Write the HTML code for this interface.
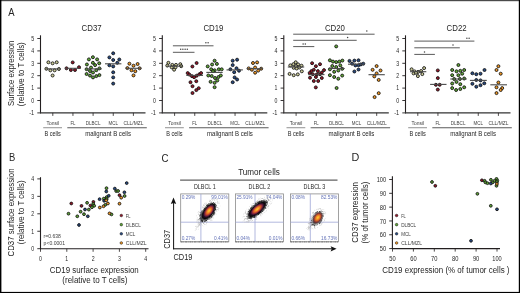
<!DOCTYPE html>
<html><head><meta charset="utf-8"><style>
html,body{margin:0;padding:0;background:#fff;width:520px;height:293px;overflow:hidden}
svg{display:block;will-change:transform}
text{font-family:"Liberation Sans", sans-serif}
</style></head><body>
<svg width="520" height="293" viewBox="0 0 520 293">
<rect width="520" height="293" fill="#fff"/>
<rect x="0" y="0" width="520" height="1.2" fill="#4a4a4a"/>
<rect x="0" y="0" width="1.4" height="293" fill="#000"/>
<rect x="518.8" y="0" width="1.2" height="293" fill="#000"/>
<rect x="0" y="291.9" width="520" height="1.1" fill="#000"/>
<text x="8.3" y="16.2" font-size="10.7" fill="#262626" text-anchor="start" textLength="6.3" lengthAdjust="spacingAndGlyphs">A</text>
<text x="8.9" y="161.4" font-size="10.7" fill="#262626" text-anchor="start" textLength="6.3" lengthAdjust="spacingAndGlyphs">B</text>
<text x="161.6" y="162" font-size="10.7" fill="#262626" text-anchor="start" textLength="7.0" lengthAdjust="spacingAndGlyphs">C</text>
<text x="351.6" y="161.4" font-size="10.7" fill="#262626" text-anchor="start" textLength="7.8" lengthAdjust="spacingAndGlyphs">D</text>
<text x="91.6" y="30.5" font-size="8.8" fill="#262626" text-anchor="middle" textLength="20.0" lengthAdjust="spacingAndGlyphs">CD37</text>
<line x1="40.5" y1="35.3" x2="40.5" y2="113.3" stroke="#231f20" stroke-width="1.1"/>
<line x1="37.3" y1="112.9" x2="40.5" y2="112.9" stroke="#231f20" stroke-width="0.9"/>
<text x="34.2" y="115.2" font-size="6.6" fill="#262626" text-anchor="end" textLength="5.0" lengthAdjust="spacingAndGlyphs">-1</text>
<line x1="37.3" y1="100.5" x2="40.5" y2="100.5" stroke="#231f20" stroke-width="0.9"/>
<text x="34.2" y="102.8" font-size="6.6" fill="#262626" text-anchor="end" textLength="2.9" lengthAdjust="spacingAndGlyphs">0</text>
<line x1="37.3" y1="88.1" x2="40.5" y2="88.1" stroke="#231f20" stroke-width="0.9"/>
<text x="34.2" y="90.39999999999999" font-size="6.6" fill="#262626" text-anchor="end" textLength="2.9" lengthAdjust="spacingAndGlyphs">1</text>
<line x1="37.3" y1="75.7" x2="40.5" y2="75.7" stroke="#231f20" stroke-width="0.9"/>
<text x="34.2" y="78.0" font-size="6.6" fill="#262626" text-anchor="end" textLength="2.9" lengthAdjust="spacingAndGlyphs">2</text>
<line x1="37.3" y1="63.3" x2="40.5" y2="63.3" stroke="#231f20" stroke-width="0.9"/>
<text x="34.2" y="65.6" font-size="6.6" fill="#262626" text-anchor="end" textLength="2.9" lengthAdjust="spacingAndGlyphs">3</text>
<line x1="37.3" y1="50.9" x2="40.5" y2="50.9" stroke="#231f20" stroke-width="0.9"/>
<text x="34.2" y="53.199999999999996" font-size="6.6" fill="#262626" text-anchor="end" textLength="2.9" lengthAdjust="spacingAndGlyphs">4</text>
<line x1="37.3" y1="38.5" x2="40.5" y2="38.5" stroke="#231f20" stroke-width="0.9"/>
<text x="34.2" y="40.8" font-size="6.6" fill="#262626" text-anchor="end" textLength="2.9" lengthAdjust="spacingAndGlyphs">5</text>
<line x1="40.0" y1="112.9" x2="145.5" y2="112.9" stroke="#333" stroke-width="1.4"/>
<line x1="52.8" y1="112.8" x2="52.8" y2="115.9" stroke="#231f20" stroke-width="0.8"/>
<text x="52.8" y="125" font-size="6.0" fill="#404040" text-anchor="middle" textLength="12.6" lengthAdjust="spacingAndGlyphs">Tonsil</text>
<line x1="72.94999999999999" y1="112.8" x2="72.94999999999999" y2="115.9" stroke="#231f20" stroke-width="0.8"/>
<text x="72.94999999999999" y="125" font-size="6.0" fill="#404040" text-anchor="middle" textLength="5.0" lengthAdjust="spacingAndGlyphs">FL</text>
<line x1="93.1" y1="112.8" x2="93.1" y2="115.9" stroke="#231f20" stroke-width="0.8"/>
<text x="93.1" y="125" font-size="6.0" fill="#404040" text-anchor="middle" textLength="14.7" lengthAdjust="spacingAndGlyphs">DLBCL</text>
<line x1="113.25" y1="112.8" x2="113.25" y2="115.9" stroke="#231f20" stroke-width="0.8"/>
<text x="113.25" y="125" font-size="6.0" fill="#404040" text-anchor="middle" textLength="9.4" lengthAdjust="spacingAndGlyphs">MCL</text>
<line x1="133.39999999999998" y1="112.8" x2="133.39999999999998" y2="115.9" stroke="#231f20" stroke-width="0.8"/>
<text x="133.39999999999998" y="125" font-size="6.0" fill="#404040" text-anchor="middle" textLength="20.0" lengthAdjust="spacingAndGlyphs">CLL/MZL</text>
<line x1="43.2" y1="127.7" x2="62.0" y2="127.7" stroke="#9a9a9a" stroke-width="1.1"/>
<line x1="67.3" y1="127.7" x2="146.8" y2="127.7" stroke="#5a5a5a" stroke-width="1.1"/>
<text x="52.6" y="135.7" font-size="6.7" fill="#262626" text-anchor="middle" textLength="16.4" lengthAdjust="spacingAndGlyphs">B cells</text>
<text x="108.1" y="135.7" font-size="6.7" fill="#262626" text-anchor="middle" textLength="45.8" lengthAdjust="spacingAndGlyphs">malignant B cells</text>
<text x="213.4" y="30.5" font-size="8.8" fill="#262626" text-anchor="middle" textLength="20.0" lengthAdjust="spacingAndGlyphs">CD19</text>
<line x1="162.3" y1="35.3" x2="162.3" y2="113.3" stroke="#231f20" stroke-width="1.1"/>
<line x1="159.10000000000002" y1="112.9" x2="162.3" y2="112.9" stroke="#231f20" stroke-width="0.9"/>
<text x="156.0" y="115.2" font-size="6.6" fill="#262626" text-anchor="end" textLength="5.0" lengthAdjust="spacingAndGlyphs">-1</text>
<line x1="159.10000000000002" y1="100.5" x2="162.3" y2="100.5" stroke="#231f20" stroke-width="0.9"/>
<text x="156.0" y="102.8" font-size="6.6" fill="#262626" text-anchor="end" textLength="2.9" lengthAdjust="spacingAndGlyphs">0</text>
<line x1="159.10000000000002" y1="88.1" x2="162.3" y2="88.1" stroke="#231f20" stroke-width="0.9"/>
<text x="156.0" y="90.39999999999999" font-size="6.6" fill="#262626" text-anchor="end" textLength="2.9" lengthAdjust="spacingAndGlyphs">1</text>
<line x1="159.10000000000002" y1="75.7" x2="162.3" y2="75.7" stroke="#231f20" stroke-width="0.9"/>
<text x="156.0" y="78.0" font-size="6.6" fill="#262626" text-anchor="end" textLength="2.9" lengthAdjust="spacingAndGlyphs">2</text>
<line x1="159.10000000000002" y1="63.3" x2="162.3" y2="63.3" stroke="#231f20" stroke-width="0.9"/>
<text x="156.0" y="65.6" font-size="6.6" fill="#262626" text-anchor="end" textLength="2.9" lengthAdjust="spacingAndGlyphs">3</text>
<line x1="159.10000000000002" y1="50.9" x2="162.3" y2="50.9" stroke="#231f20" stroke-width="0.9"/>
<text x="156.0" y="53.199999999999996" font-size="6.6" fill="#262626" text-anchor="end" textLength="2.9" lengthAdjust="spacingAndGlyphs">4</text>
<line x1="159.10000000000002" y1="38.5" x2="162.3" y2="38.5" stroke="#231f20" stroke-width="0.9"/>
<text x="156.0" y="40.8" font-size="6.6" fill="#262626" text-anchor="end" textLength="2.9" lengthAdjust="spacingAndGlyphs">5</text>
<line x1="161.8" y1="112.9" x2="267.3" y2="112.9" stroke="#333" stroke-width="1.4"/>
<line x1="174.60000000000002" y1="112.8" x2="174.60000000000002" y2="115.9" stroke="#231f20" stroke-width="0.8"/>
<text x="174.60000000000002" y="125" font-size="6.0" fill="#404040" text-anchor="middle" textLength="12.6" lengthAdjust="spacingAndGlyphs">Tonsil</text>
<line x1="194.75000000000003" y1="112.8" x2="194.75000000000003" y2="115.9" stroke="#231f20" stroke-width="0.8"/>
<text x="194.75000000000003" y="125" font-size="6.0" fill="#404040" text-anchor="middle" textLength="5.0" lengthAdjust="spacingAndGlyphs">FL</text>
<line x1="214.90000000000003" y1="112.8" x2="214.90000000000003" y2="115.9" stroke="#231f20" stroke-width="0.8"/>
<text x="214.90000000000003" y="125" font-size="6.0" fill="#404040" text-anchor="middle" textLength="14.7" lengthAdjust="spacingAndGlyphs">DLBCL</text>
<line x1="235.05" y1="112.8" x2="235.05" y2="115.9" stroke="#231f20" stroke-width="0.8"/>
<text x="235.05" y="125" font-size="6.0" fill="#404040" text-anchor="middle" textLength="9.4" lengthAdjust="spacingAndGlyphs">MCL</text>
<line x1="255.20000000000002" y1="112.8" x2="255.20000000000002" y2="115.9" stroke="#231f20" stroke-width="0.8"/>
<text x="255.20000000000002" y="125" font-size="6.0" fill="#404040" text-anchor="middle" textLength="20.0" lengthAdjust="spacingAndGlyphs">CLL/MZL</text>
<line x1="165.0" y1="127.7" x2="183.8" y2="127.7" stroke="#9a9a9a" stroke-width="1.1"/>
<line x1="189.10000000000002" y1="127.7" x2="268.6" y2="127.7" stroke="#5a5a5a" stroke-width="1.1"/>
<text x="174.4" y="135.7" font-size="6.7" fill="#262626" text-anchor="middle" textLength="16.4" lengthAdjust="spacingAndGlyphs">B cells</text>
<text x="229.9" y="135.7" font-size="6.7" fill="#262626" text-anchor="middle" textLength="45.8" lengthAdjust="spacingAndGlyphs">malignant B cells</text>
<text x="334.90000000000003" y="30.5" font-size="8.8" fill="#262626" text-anchor="middle" textLength="20.0" lengthAdjust="spacingAndGlyphs">CD20</text>
<line x1="283.8" y1="35.3" x2="283.8" y2="113.3" stroke="#231f20" stroke-width="1.1"/>
<line x1="280.6" y1="112.9" x2="283.8" y2="112.9" stroke="#231f20" stroke-width="0.9"/>
<text x="277.5" y="115.2" font-size="6.6" fill="#262626" text-anchor="end" textLength="5.0" lengthAdjust="spacingAndGlyphs">-1</text>
<line x1="280.6" y1="100.5" x2="283.8" y2="100.5" stroke="#231f20" stroke-width="0.9"/>
<text x="277.5" y="102.8" font-size="6.6" fill="#262626" text-anchor="end" textLength="2.9" lengthAdjust="spacingAndGlyphs">0</text>
<line x1="280.6" y1="88.1" x2="283.8" y2="88.1" stroke="#231f20" stroke-width="0.9"/>
<text x="277.5" y="90.39999999999999" font-size="6.6" fill="#262626" text-anchor="end" textLength="2.9" lengthAdjust="spacingAndGlyphs">1</text>
<line x1="280.6" y1="75.7" x2="283.8" y2="75.7" stroke="#231f20" stroke-width="0.9"/>
<text x="277.5" y="78.0" font-size="6.6" fill="#262626" text-anchor="end" textLength="2.9" lengthAdjust="spacingAndGlyphs">2</text>
<line x1="280.6" y1="63.3" x2="283.8" y2="63.3" stroke="#231f20" stroke-width="0.9"/>
<text x="277.5" y="65.6" font-size="6.6" fill="#262626" text-anchor="end" textLength="2.9" lengthAdjust="spacingAndGlyphs">3</text>
<line x1="280.6" y1="50.9" x2="283.8" y2="50.9" stroke="#231f20" stroke-width="0.9"/>
<text x="277.5" y="53.199999999999996" font-size="6.6" fill="#262626" text-anchor="end" textLength="2.9" lengthAdjust="spacingAndGlyphs">4</text>
<line x1="280.6" y1="38.5" x2="283.8" y2="38.5" stroke="#231f20" stroke-width="0.9"/>
<text x="277.5" y="40.8" font-size="6.6" fill="#262626" text-anchor="end" textLength="2.9" lengthAdjust="spacingAndGlyphs">5</text>
<line x1="283.3" y1="112.9" x2="388.8" y2="112.9" stroke="#333" stroke-width="1.4"/>
<line x1="296.1" y1="112.8" x2="296.1" y2="115.9" stroke="#231f20" stroke-width="0.8"/>
<text x="296.1" y="125" font-size="6.0" fill="#404040" text-anchor="middle" textLength="12.6" lengthAdjust="spacingAndGlyphs">Tonsil</text>
<line x1="316.25" y1="112.8" x2="316.25" y2="115.9" stroke="#231f20" stroke-width="0.8"/>
<text x="316.25" y="125" font-size="6.0" fill="#404040" text-anchor="middle" textLength="5.0" lengthAdjust="spacingAndGlyphs">FL</text>
<line x1="336.40000000000003" y1="112.8" x2="336.40000000000003" y2="115.9" stroke="#231f20" stroke-width="0.8"/>
<text x="336.40000000000003" y="125" font-size="6.0" fill="#404040" text-anchor="middle" textLength="14.7" lengthAdjust="spacingAndGlyphs">DLBCL</text>
<line x1="356.55" y1="112.8" x2="356.55" y2="115.9" stroke="#231f20" stroke-width="0.8"/>
<text x="356.55" y="125" font-size="6.0" fill="#404040" text-anchor="middle" textLength="9.4" lengthAdjust="spacingAndGlyphs">MCL</text>
<line x1="376.70000000000005" y1="112.8" x2="376.70000000000005" y2="115.9" stroke="#231f20" stroke-width="0.8"/>
<text x="376.70000000000005" y="125" font-size="6.0" fill="#404040" text-anchor="middle" textLength="20.0" lengthAdjust="spacingAndGlyphs">CLL/MZL</text>
<line x1="286.5" y1="127.7" x2="305.3" y2="127.7" stroke="#9a9a9a" stroke-width="1.1"/>
<line x1="310.6" y1="127.7" x2="390.1" y2="127.7" stroke="#5a5a5a" stroke-width="1.1"/>
<text x="295.90000000000003" y="135.7" font-size="6.7" fill="#262626" text-anchor="middle" textLength="16.4" lengthAdjust="spacingAndGlyphs">B cells</text>
<text x="351.4" y="135.7" font-size="6.7" fill="#262626" text-anchor="middle" textLength="45.8" lengthAdjust="spacingAndGlyphs">malignant B cells</text>
<text x="456.6" y="30.5" font-size="8.8" fill="#262626" text-anchor="middle" textLength="20.0" lengthAdjust="spacingAndGlyphs">CD22</text>
<line x1="405.5" y1="35.3" x2="405.5" y2="113.3" stroke="#231f20" stroke-width="1.1"/>
<line x1="402.3" y1="112.9" x2="405.5" y2="112.9" stroke="#231f20" stroke-width="0.9"/>
<text x="399.2" y="115.2" font-size="6.6" fill="#262626" text-anchor="end" textLength="5.0" lengthAdjust="spacingAndGlyphs">-1</text>
<line x1="402.3" y1="100.5" x2="405.5" y2="100.5" stroke="#231f20" stroke-width="0.9"/>
<text x="399.2" y="102.8" font-size="6.6" fill="#262626" text-anchor="end" textLength="2.9" lengthAdjust="spacingAndGlyphs">0</text>
<line x1="402.3" y1="88.1" x2="405.5" y2="88.1" stroke="#231f20" stroke-width="0.9"/>
<text x="399.2" y="90.39999999999999" font-size="6.6" fill="#262626" text-anchor="end" textLength="2.9" lengthAdjust="spacingAndGlyphs">1</text>
<line x1="402.3" y1="75.7" x2="405.5" y2="75.7" stroke="#231f20" stroke-width="0.9"/>
<text x="399.2" y="78.0" font-size="6.6" fill="#262626" text-anchor="end" textLength="2.9" lengthAdjust="spacingAndGlyphs">2</text>
<line x1="402.3" y1="63.3" x2="405.5" y2="63.3" stroke="#231f20" stroke-width="0.9"/>
<text x="399.2" y="65.6" font-size="6.6" fill="#262626" text-anchor="end" textLength="2.9" lengthAdjust="spacingAndGlyphs">3</text>
<line x1="402.3" y1="50.9" x2="405.5" y2="50.9" stroke="#231f20" stroke-width="0.9"/>
<text x="399.2" y="53.199999999999996" font-size="6.6" fill="#262626" text-anchor="end" textLength="2.9" lengthAdjust="spacingAndGlyphs">4</text>
<line x1="402.3" y1="38.5" x2="405.5" y2="38.5" stroke="#231f20" stroke-width="0.9"/>
<text x="399.2" y="40.8" font-size="6.6" fill="#262626" text-anchor="end" textLength="2.9" lengthAdjust="spacingAndGlyphs">5</text>
<line x1="405.0" y1="112.9" x2="510.5" y2="112.9" stroke="#333" stroke-width="1.4"/>
<line x1="417.8" y1="112.8" x2="417.8" y2="115.9" stroke="#231f20" stroke-width="0.8"/>
<text x="417.8" y="125" font-size="6.0" fill="#404040" text-anchor="middle" textLength="12.6" lengthAdjust="spacingAndGlyphs">Tonsil</text>
<line x1="437.95" y1="112.8" x2="437.95" y2="115.9" stroke="#231f20" stroke-width="0.8"/>
<text x="437.95" y="125" font-size="6.0" fill="#404040" text-anchor="middle" textLength="5.0" lengthAdjust="spacingAndGlyphs">FL</text>
<line x1="458.1" y1="112.8" x2="458.1" y2="115.9" stroke="#231f20" stroke-width="0.8"/>
<text x="458.1" y="125" font-size="6.0" fill="#404040" text-anchor="middle" textLength="14.7" lengthAdjust="spacingAndGlyphs">DLBCL</text>
<line x1="478.25" y1="112.8" x2="478.25" y2="115.9" stroke="#231f20" stroke-width="0.8"/>
<text x="478.25" y="125" font-size="6.0" fill="#404040" text-anchor="middle" textLength="9.4" lengthAdjust="spacingAndGlyphs">MCL</text>
<line x1="498.4" y1="112.8" x2="498.4" y2="115.9" stroke="#231f20" stroke-width="0.8"/>
<text x="498.4" y="125" font-size="6.0" fill="#404040" text-anchor="middle" textLength="20.0" lengthAdjust="spacingAndGlyphs">CLL/MZL</text>
<line x1="408.2" y1="127.7" x2="427.0" y2="127.7" stroke="#9a9a9a" stroke-width="1.1"/>
<line x1="432.3" y1="127.7" x2="511.8" y2="127.7" stroke="#5a5a5a" stroke-width="1.1"/>
<text x="417.6" y="135.7" font-size="6.7" fill="#262626" text-anchor="middle" textLength="16.4" lengthAdjust="spacingAndGlyphs">B cells</text>
<text x="473.1" y="135.7" font-size="6.7" fill="#262626" text-anchor="middle" textLength="45.8" lengthAdjust="spacingAndGlyphs">malignant B cells</text>
<text x="14.3" y="105.9" font-size="8.4" fill="#262626" text-anchor="start" textLength="65.1" lengthAdjust="spacingAndGlyphs" transform="rotate(-90 14.3 105.9)">Surface expression</text>
<text x="24.3" y="106.2" font-size="8.4" fill="#262626" text-anchor="start" textLength="63.9" lengthAdjust="spacingAndGlyphs" transform="rotate(-90 24.3 106.2)">(relative to T cells)</text>
<line x1="172.9" y1="45.8" x2="213.5" y2="45.8" stroke="#5a5a5a" stroke-width="1"/>
<circle cx="205.90" cy="42.8" r="0.75" fill="#444"/>
<circle cx="208.10" cy="42.8" r="0.75" fill="#444"/>
<line x1="172.9" y1="52.3" x2="194.5" y2="52.3" stroke="#5a5a5a" stroke-width="1"/>
<circle cx="180.70" cy="49.2" r="0.75" fill="#444"/>
<circle cx="182.90" cy="49.2" r="0.75" fill="#444"/>
<circle cx="185.10" cy="49.2" r="0.75" fill="#444"/>
<circle cx="187.30" cy="49.2" r="0.75" fill="#444"/>
<line x1="293.2" y1="34.2" x2="374.6" y2="34.2" stroke="#5a5a5a" stroke-width="1"/>
<circle cx="366.80" cy="31.1" r="0.75" fill="#444"/>
<line x1="293.2" y1="40.3" x2="356.7" y2="40.3" stroke="#5a5a5a" stroke-width="1"/>
<circle cx="347.60" cy="37.5" r="0.75" fill="#444"/>
<line x1="293.2" y1="46.6" x2="314.3" y2="46.6" stroke="#5a5a5a" stroke-width="1"/>
<circle cx="303.10" cy="44.1" r="0.75" fill="#444"/>
<circle cx="305.30" cy="44.1" r="0.75" fill="#444"/>
<line x1="414.3" y1="41.1" x2="474.4" y2="41.1" stroke="#5a5a5a" stroke-width="1"/>
<circle cx="466.90" cy="38.2" r="0.75" fill="#444"/>
<circle cx="469.10" cy="38.2" r="0.75" fill="#444"/>
<line x1="414.3" y1="47.8" x2="459.8" y2="47.8" stroke="#5a5a5a" stroke-width="1"/>
<circle cx="453.00" cy="45" r="0.75" fill="#444"/>
<line x1="414.3" y1="54.4" x2="434.9" y2="54.4" stroke="#5a5a5a" stroke-width="1"/>
<circle cx="424.50" cy="51.9" r="0.75" fill="#444"/>
<circle cx="48.4" cy="62.3" r="1.5" fill="#cbcb98" stroke="#111" stroke-width="0.85"/>
<circle cx="52.6" cy="63.3" r="1.5" fill="#cbcb98" stroke="#111" stroke-width="0.85"/>
<circle cx="56.7" cy="62.3" r="1.5" fill="#cbcb98" stroke="#111" stroke-width="0.85"/>
<circle cx="46.4" cy="68.8" r="1.5" fill="#cbcb98" stroke="#111" stroke-width="0.85"/>
<circle cx="50.4" cy="70.3" r="1.5" fill="#cbcb98" stroke="#111" stroke-width="0.85"/>
<circle cx="54.6" cy="70.3" r="1.5" fill="#cbcb98" stroke="#111" stroke-width="0.85"/>
<circle cx="58.9" cy="69.0" r="1.5" fill="#cbcb98" stroke="#111" stroke-width="0.85"/>
<circle cx="52.6" cy="75.5" r="1.5" fill="#cbcb98" stroke="#111" stroke-width="0.85"/>
<line x1="45.5" y1="68.9" x2="60.6" y2="68.9" stroke="#4a4a4a" stroke-width="1.1"/>
<circle cx="72.7" cy="62.4" r="1.5" fill="#921628" stroke="#111" stroke-width="0.85"/>
<circle cx="66.5" cy="68.3" r="1.5" fill="#921628" stroke="#111" stroke-width="0.85"/>
<circle cx="70.9" cy="70.0" r="1.5" fill="#921628" stroke="#111" stroke-width="0.85"/>
<circle cx="75.0" cy="70.0" r="1.5" fill="#921628" stroke="#111" stroke-width="0.85"/>
<circle cx="79" cy="67.2" r="1.5" fill="#921628" stroke="#111" stroke-width="0.85"/>
<line x1="65" y1="68.3" x2="80.8" y2="68.3" stroke="#4a4a4a" stroke-width="1.1"/>
<circle cx="92.9" cy="57.2" r="1.5" fill="#5ea535" stroke="#111" stroke-width="0.85"/>
<circle cx="88.9" cy="59.4" r="1.5" fill="#5ea535" stroke="#111" stroke-width="0.85"/>
<circle cx="97.1" cy="59.4" r="1.5" fill="#5ea535" stroke="#111" stroke-width="0.85"/>
<circle cx="92.9" cy="62.8" r="1.5" fill="#5ea535" stroke="#111" stroke-width="0.85"/>
<circle cx="99.2" cy="63.3" r="1.5" fill="#5ea535" stroke="#111" stroke-width="0.85"/>
<circle cx="86.9" cy="64.5" r="1.5" fill="#5ea535" stroke="#111" stroke-width="0.85"/>
<circle cx="95.1" cy="65.1" r="1.5" fill="#5ea535" stroke="#111" stroke-width="0.85"/>
<circle cx="91" cy="67.6" r="1.5" fill="#5ea535" stroke="#111" stroke-width="0.85"/>
<circle cx="86.6" cy="69.2" r="1.5" fill="#5ea535" stroke="#111" stroke-width="0.85"/>
<circle cx="99.4" cy="68.4" r="1.5" fill="#5ea535" stroke="#111" stroke-width="0.85"/>
<circle cx="90" cy="71" r="1.5" fill="#5ea535" stroke="#111" stroke-width="0.85"/>
<circle cx="96.3" cy="70.2" r="1.5" fill="#5ea535" stroke="#111" stroke-width="0.85"/>
<circle cx="93" cy="72.5" r="1.5" fill="#5ea535" stroke="#111" stroke-width="0.85"/>
<circle cx="86.6" cy="74" r="1.5" fill="#5ea535" stroke="#111" stroke-width="0.85"/>
<circle cx="90" cy="75.6" r="1.5" fill="#5ea535" stroke="#111" stroke-width="0.85"/>
<circle cx="93" cy="77.4" r="1.5" fill="#5ea535" stroke="#111" stroke-width="0.85"/>
<circle cx="96.3" cy="76.1" r="1.5" fill="#5ea535" stroke="#111" stroke-width="0.85"/>
<circle cx="99.4" cy="75.1" r="1.5" fill="#5ea535" stroke="#111" stroke-width="0.85"/>
<line x1="85.2" y1="68.9" x2="101.7" y2="68.9" stroke="#4a4a4a" stroke-width="1.1"/>
<circle cx="113.2" cy="53.3" r="1.5" fill="#274a82" stroke="#111" stroke-width="0.85"/>
<circle cx="109.4" cy="57.4" r="1.5" fill="#274a82" stroke="#111" stroke-width="0.85"/>
<circle cx="113.2" cy="60" r="1.5" fill="#274a82" stroke="#111" stroke-width="0.85"/>
<circle cx="119.3" cy="59.5" r="1.5" fill="#274a82" stroke="#111" stroke-width="0.85"/>
<circle cx="117.3" cy="62.8" r="1.5" fill="#274a82" stroke="#111" stroke-width="0.85"/>
<circle cx="109.4" cy="65.3" r="1.5" fill="#274a82" stroke="#111" stroke-width="0.85"/>
<circle cx="113.2" cy="66.4" r="1.5" fill="#274a82" stroke="#111" stroke-width="0.85"/>
<circle cx="113.2" cy="72.3" r="1.5" fill="#274a82" stroke="#111" stroke-width="0.85"/>
<circle cx="113.2" cy="77.4" r="1.5" fill="#274a82" stroke="#111" stroke-width="0.85"/>
<circle cx="113.2" cy="83.6" r="1.5" fill="#274a82" stroke="#111" stroke-width="0.85"/>
<line x1="105.0" y1="63.8" x2="121.4" y2="63.8" stroke="#4a4a4a" stroke-width="1.1"/>
<circle cx="129.4" cy="63.7" r="1.5" fill="#ee9624" stroke="#111" stroke-width="0.85"/>
<circle cx="133.5" cy="65.7" r="1.5" fill="#ee9624" stroke="#111" stroke-width="0.85"/>
<circle cx="137.6" cy="64" r="1.5" fill="#ee9624" stroke="#111" stroke-width="0.85"/>
<circle cx="127.4" cy="68.1" r="1.5" fill="#ee9624" stroke="#111" stroke-width="0.85"/>
<circle cx="139.6" cy="68.3" r="1.5" fill="#ee9624" stroke="#111" stroke-width="0.85"/>
<circle cx="131.5" cy="70.3" r="1.5" fill="#ee9624" stroke="#111" stroke-width="0.85"/>
<circle cx="135.3" cy="71.2" r="1.5" fill="#ee9624" stroke="#111" stroke-width="0.85"/>
<circle cx="133.5" cy="75.4" r="1.5" fill="#ee9624" stroke="#111" stroke-width="0.85"/>
<line x1="125.5" y1="68.3" x2="141.5" y2="68.3" stroke="#4a4a4a" stroke-width="1.1"/>
<circle cx="168.4" cy="62.8" r="1.5" fill="#cbcb98" stroke="#111" stroke-width="0.85"/>
<circle cx="167.3" cy="65.6" r="1.5" fill="#cbcb98" stroke="#111" stroke-width="0.85"/>
<circle cx="172.3" cy="64.9" r="1.5" fill="#cbcb98" stroke="#111" stroke-width="0.85"/>
<circle cx="176" cy="64.9" r="1.5" fill="#cbcb98" stroke="#111" stroke-width="0.85"/>
<circle cx="180.3" cy="64.2" r="1.5" fill="#cbcb98" stroke="#111" stroke-width="0.85"/>
<circle cx="181.2" cy="66.2" r="1.5" fill="#cbcb98" stroke="#111" stroke-width="0.85"/>
<circle cx="171.7" cy="67.3" r="1.5" fill="#cbcb98" stroke="#111" stroke-width="0.85"/>
<circle cx="175.5" cy="67.3" r="1.5" fill="#cbcb98" stroke="#111" stroke-width="0.85"/>
<circle cx="174.1" cy="69.7" r="1.5" fill="#cbcb98" stroke="#111" stroke-width="0.85"/>
<line x1="166.5" y1="66.2" x2="182" y2="66.2" stroke="#4a4a4a" stroke-width="1.1"/>
<circle cx="196.6" cy="63" r="1.5" fill="#921628" stroke="#111" stroke-width="0.85"/>
<circle cx="192.4" cy="66.5" r="1.5" fill="#921628" stroke="#111" stroke-width="0.85"/>
<circle cx="187.7" cy="73.1" r="1.5" fill="#921628" stroke="#111" stroke-width="0.85"/>
<circle cx="189.4" cy="74.6" r="1.5" fill="#921628" stroke="#111" stroke-width="0.85"/>
<circle cx="192" cy="76.2" r="1.5" fill="#921628" stroke="#111" stroke-width="0.85"/>
<circle cx="194.1" cy="77.2" r="1.5" fill="#921628" stroke="#111" stroke-width="0.85"/>
<circle cx="196.7" cy="75.7" r="1.5" fill="#921628" stroke="#111" stroke-width="0.85"/>
<circle cx="199.3" cy="74.3" r="1.5" fill="#921628" stroke="#111" stroke-width="0.85"/>
<circle cx="201.1" cy="73.1" r="1.5" fill="#921628" stroke="#111" stroke-width="0.85"/>
<circle cx="190.5" cy="82.2" r="1.5" fill="#921628" stroke="#111" stroke-width="0.85"/>
<circle cx="196.3" cy="81.2" r="1.5" fill="#921628" stroke="#111" stroke-width="0.85"/>
<circle cx="192.5" cy="86.2" r="1.5" fill="#921628" stroke="#111" stroke-width="0.85"/>
<circle cx="198.7" cy="88.2" r="1.5" fill="#921628" stroke="#111" stroke-width="0.85"/>
<circle cx="196.3" cy="90.1" r="1.5" fill="#921628" stroke="#111" stroke-width="0.85"/>
<circle cx="192.5" cy="93" r="1.5" fill="#921628" stroke="#111" stroke-width="0.85"/>
<line x1="186.3" y1="75.4" x2="203" y2="75.4" stroke="#4a4a4a" stroke-width="1.1"/>
<circle cx="214.6" cy="60.7" r="1.5" fill="#5ea535" stroke="#111" stroke-width="0.85"/>
<circle cx="212.1" cy="64.5" r="1.5" fill="#5ea535" stroke="#111" stroke-width="0.85"/>
<circle cx="216.9" cy="63.9" r="1.5" fill="#5ea535" stroke="#111" stroke-width="0.85"/>
<circle cx="207.7" cy="66.4" r="1.5" fill="#5ea535" stroke="#111" stroke-width="0.85"/>
<circle cx="211.2" cy="69.3" r="1.5" fill="#5ea535" stroke="#111" stroke-width="0.85"/>
<circle cx="214.6" cy="70.3" r="1.5" fill="#5ea535" stroke="#111" stroke-width="0.85"/>
<circle cx="218.8" cy="69.3" r="1.5" fill="#5ea535" stroke="#111" stroke-width="0.85"/>
<circle cx="221.7" cy="69.3" r="1.5" fill="#5ea535" stroke="#111" stroke-width="0.85"/>
<circle cx="208.3" cy="75.5" r="1.5" fill="#5ea535" stroke="#111" stroke-width="0.85"/>
<circle cx="211.7" cy="76" r="1.5" fill="#5ea535" stroke="#111" stroke-width="0.85"/>
<circle cx="215" cy="78" r="1.5" fill="#5ea535" stroke="#111" stroke-width="0.85"/>
<circle cx="218.5" cy="77" r="1.5" fill="#5ea535" stroke="#111" stroke-width="0.85"/>
<circle cx="220.8" cy="75.5" r="1.5" fill="#5ea535" stroke="#111" stroke-width="0.85"/>
<circle cx="217.3" cy="80.5" r="1.5" fill="#5ea535" stroke="#111" stroke-width="0.85"/>
<circle cx="210.6" cy="81.8" r="1.5" fill="#5ea535" stroke="#111" stroke-width="0.85"/>
<circle cx="214.6" cy="82.8" r="1.5" fill="#5ea535" stroke="#111" stroke-width="0.85"/>
<circle cx="214.6" cy="87.2" r="1.5" fill="#5ea535" stroke="#111" stroke-width="0.85"/>
<circle cx="213" cy="71.2" r="1.5" fill="#5ea535" stroke="#111" stroke-width="0.85"/>
<line x1="206.3" y1="72.4" x2="222.7" y2="72.4" stroke="#4a4a4a" stroke-width="1.1"/>
<circle cx="232.7" cy="60.7" r="1.5" fill="#274a82" stroke="#111" stroke-width="0.85"/>
<circle cx="237.1" cy="59.7" r="1.5" fill="#274a82" stroke="#111" stroke-width="0.85"/>
<circle cx="232.7" cy="65.1" r="1.5" fill="#274a82" stroke="#111" stroke-width="0.85"/>
<circle cx="230.4" cy="69.3" r="1.5" fill="#274a82" stroke="#111" stroke-width="0.85"/>
<circle cx="236.5" cy="68.3" r="1.5" fill="#274a82" stroke="#111" stroke-width="0.85"/>
<circle cx="239" cy="70.7" r="1.5" fill="#274a82" stroke="#111" stroke-width="0.85"/>
<circle cx="234.2" cy="72.2" r="1.5" fill="#274a82" stroke="#111" stroke-width="0.85"/>
<circle cx="234.6" cy="77.4" r="1.5" fill="#274a82" stroke="#111" stroke-width="0.85"/>
<circle cx="237.1" cy="79.5" r="1.5" fill="#274a82" stroke="#111" stroke-width="0.85"/>
<circle cx="232.7" cy="82.2" r="1.5" fill="#274a82" stroke="#111" stroke-width="0.85"/>
<line x1="226.5" y1="69.9" x2="242.9" y2="69.9" stroke="#4a4a4a" stroke-width="1.1"/>
<circle cx="253" cy="63" r="1.5" fill="#ee9624" stroke="#111" stroke-width="0.85"/>
<circle cx="257.1" cy="62.4" r="1.5" fill="#ee9624" stroke="#111" stroke-width="0.85"/>
<circle cx="248.7" cy="68.4" r="1.5" fill="#ee9624" stroke="#111" stroke-width="0.85"/>
<circle cx="251.9" cy="69.7" r="1.5" fill="#ee9624" stroke="#111" stroke-width="0.85"/>
<circle cx="255.1" cy="67.5" r="1.5" fill="#ee9624" stroke="#111" stroke-width="0.85"/>
<circle cx="258.2" cy="70.6" r="1.5" fill="#ee9624" stroke="#111" stroke-width="0.85"/>
<circle cx="261.2" cy="68.7" r="1.5" fill="#ee9624" stroke="#111" stroke-width="0.85"/>
<circle cx="255.1" cy="72.7" r="1.5" fill="#ee9624" stroke="#111" stroke-width="0.85"/>
<line x1="246.7" y1="68.7" x2="263" y2="68.7" stroke="#4a4a4a" stroke-width="1.1"/>
<circle cx="295.7" cy="62.3" r="1.5" fill="#cbcb98" stroke="#111" stroke-width="0.85"/>
<circle cx="293.4" cy="64.2" r="1.5" fill="#cbcb98" stroke="#111" stroke-width="0.85"/>
<circle cx="298.1" cy="64.4" r="1.5" fill="#cbcb98" stroke="#111" stroke-width="0.85"/>
<circle cx="290.3" cy="65.4" r="1.5" fill="#cbcb98" stroke="#111" stroke-width="0.85"/>
<circle cx="301.5" cy="65.7" r="1.5" fill="#cbcb98" stroke="#111" stroke-width="0.85"/>
<circle cx="296" cy="66.2" r="1.5" fill="#cbcb98" stroke="#111" stroke-width="0.85"/>
<circle cx="293.7" cy="67.8" r="1.5" fill="#cbcb98" stroke="#111" stroke-width="0.85"/>
<circle cx="296.7" cy="68.5" r="1.5" fill="#cbcb98" stroke="#111" stroke-width="0.85"/>
<circle cx="299.3" cy="67.5" r="1.5" fill="#cbcb98" stroke="#111" stroke-width="0.85"/>
<circle cx="289.6" cy="73.9" r="1.5" fill="#cbcb98" stroke="#111" stroke-width="0.85"/>
<circle cx="293.7" cy="75.2" r="1.5" fill="#cbcb98" stroke="#111" stroke-width="0.85"/>
<circle cx="297.8" cy="74.4" r="1.5" fill="#cbcb98" stroke="#111" stroke-width="0.85"/>
<circle cx="301.8" cy="71.3" r="1.5" fill="#cbcb98" stroke="#111" stroke-width="0.85"/>
<line x1="287.8" y1="67.0" x2="304.2" y2="67.0" stroke="#4a4a4a" stroke-width="1.1"/>
<circle cx="312.1" cy="63.2" r="1.5" fill="#921628" stroke="#111" stroke-width="0.85"/>
<circle cx="320" cy="64.2" r="1.5" fill="#921628" stroke="#111" stroke-width="0.85"/>
<circle cx="315.9" cy="66.2" r="1.5" fill="#921628" stroke="#111" stroke-width="0.85"/>
<circle cx="313.8" cy="69.8" r="1.5" fill="#921628" stroke="#111" stroke-width="0.85"/>
<circle cx="317.9" cy="71.1" r="1.5" fill="#921628" stroke="#111" stroke-width="0.85"/>
<circle cx="324" cy="70.1" r="1.5" fill="#921628" stroke="#111" stroke-width="0.85"/>
<circle cx="311.4" cy="71.1" r="1.5" fill="#921628" stroke="#111" stroke-width="0.85"/>
<circle cx="309.7" cy="72.9" r="1.5" fill="#921628" stroke="#111" stroke-width="0.85"/>
<circle cx="321.8" cy="72.6" r="1.5" fill="#921628" stroke="#111" stroke-width="0.85"/>
<circle cx="312.8" cy="74.2" r="1.5" fill="#921628" stroke="#111" stroke-width="0.85"/>
<circle cx="316.7" cy="74.6" r="1.5" fill="#921628" stroke="#111" stroke-width="0.85"/>
<circle cx="320" cy="74.2" r="1.5" fill="#921628" stroke="#111" stroke-width="0.85"/>
<circle cx="310" cy="77.7" r="1.5" fill="#921628" stroke="#111" stroke-width="0.85"/>
<circle cx="315.9" cy="77" r="1.5" fill="#921628" stroke="#111" stroke-width="0.85"/>
<circle cx="321.8" cy="78" r="1.5" fill="#921628" stroke="#111" stroke-width="0.85"/>
<circle cx="313.8" cy="81" r="1.5" fill="#921628" stroke="#111" stroke-width="0.85"/>
<circle cx="318.2" cy="81" r="1.5" fill="#921628" stroke="#111" stroke-width="0.85"/>
<circle cx="315.8" cy="87.4" r="1.5" fill="#921628" stroke="#111" stroke-width="0.85"/>
<line x1="308.2" y1="74.6" x2="324.5" y2="74.6" stroke="#4a4a4a" stroke-width="1.1"/>
<circle cx="336.2" cy="46.4" r="1.5" fill="#5ea535" stroke="#111" stroke-width="0.85"/>
<circle cx="329.9" cy="60.3" r="1.5" fill="#5ea535" stroke="#111" stroke-width="0.85"/>
<circle cx="333" cy="61.6" r="1.5" fill="#5ea535" stroke="#111" stroke-width="0.85"/>
<circle cx="336.2" cy="62.1" r="1.5" fill="#5ea535" stroke="#111" stroke-width="0.85"/>
<circle cx="339.3" cy="61.6" r="1.5" fill="#5ea535" stroke="#111" stroke-width="0.85"/>
<circle cx="342.4" cy="60.6" r="1.5" fill="#5ea535" stroke="#111" stroke-width="0.85"/>
<circle cx="332.3" cy="66" r="1.5" fill="#5ea535" stroke="#111" stroke-width="0.85"/>
<circle cx="336.2" cy="67" r="1.5" fill="#5ea535" stroke="#111" stroke-width="0.85"/>
<circle cx="340.3" cy="65.4" r="1.5" fill="#5ea535" stroke="#111" stroke-width="0.85"/>
<circle cx="329.9" cy="69.3" r="1.5" fill="#5ea535" stroke="#111" stroke-width="0.85"/>
<circle cx="334.2" cy="71.8" r="1.5" fill="#5ea535" stroke="#111" stroke-width="0.85"/>
<circle cx="338.3" cy="70.5" r="1.5" fill="#5ea535" stroke="#111" stroke-width="0.85"/>
<circle cx="342.2" cy="68.8" r="1.5" fill="#5ea535" stroke="#111" stroke-width="0.85"/>
<circle cx="329.9" cy="75.2" r="1.5" fill="#5ea535" stroke="#111" stroke-width="0.85"/>
<circle cx="334.2" cy="77" r="1.5" fill="#5ea535" stroke="#111" stroke-width="0.85"/>
<circle cx="338.3" cy="78.7" r="1.5" fill="#5ea535" stroke="#111" stroke-width="0.85"/>
<circle cx="342.2" cy="75.6" r="1.5" fill="#5ea535" stroke="#111" stroke-width="0.85"/>
<circle cx="336.6" cy="88" r="1.5" fill="#5ea535" stroke="#111" stroke-width="0.85"/>
<line x1="328.3" y1="68.5" x2="344.7" y2="68.5" stroke="#4a4a4a" stroke-width="1.1"/>
<circle cx="349.5" cy="60.9" r="1.5" fill="#274a82" stroke="#111" stroke-width="0.85"/>
<circle cx="354.4" cy="60.6" r="1.5" fill="#274a82" stroke="#111" stroke-width="0.85"/>
<circle cx="358.5" cy="60.3" r="1.5" fill="#274a82" stroke="#111" stroke-width="0.85"/>
<circle cx="352.1" cy="63.7" r="1.5" fill="#274a82" stroke="#111" stroke-width="0.85"/>
<circle cx="355.4" cy="65.4" r="1.5" fill="#274a82" stroke="#111" stroke-width="0.85"/>
<circle cx="358.5" cy="65.2" r="1.5" fill="#274a82" stroke="#111" stroke-width="0.85"/>
<circle cx="360.8" cy="64.4" r="1.5" fill="#274a82" stroke="#111" stroke-width="0.85"/>
<circle cx="363.3" cy="63.7" r="1.5" fill="#274a82" stroke="#111" stroke-width="0.85"/>
<circle cx="354.4" cy="71.5" r="1.5" fill="#274a82" stroke="#111" stroke-width="0.85"/>
<circle cx="358.5" cy="69.5" r="1.5" fill="#274a82" stroke="#111" stroke-width="0.85"/>
<line x1="348.0" y1="64.2" x2="364.9" y2="64.2" stroke="#4a4a4a" stroke-width="1.1"/>
<circle cx="376.6" cy="66.1" r="1.5" fill="#ee9624" stroke="#111" stroke-width="0.85"/>
<circle cx="372.6" cy="69.8" r="1.5" fill="#ee9624" stroke="#111" stroke-width="0.85"/>
<circle cx="380.5" cy="70.5" r="1.5" fill="#ee9624" stroke="#111" stroke-width="0.85"/>
<circle cx="376.6" cy="73.4" r="1.5" fill="#ee9624" stroke="#111" stroke-width="0.85"/>
<circle cx="374.3" cy="76.4" r="1.5" fill="#ee9624" stroke="#111" stroke-width="0.85"/>
<circle cx="378.7" cy="79.9" r="1.5" fill="#ee9624" stroke="#111" stroke-width="0.85"/>
<circle cx="378.7" cy="93.2" r="1.5" fill="#ee9624" stroke="#111" stroke-width="0.85"/>
<circle cx="374.6" cy="97.1" r="1.5" fill="#ee9624" stroke="#111" stroke-width="0.85"/>
<line x1="368.5" y1="74.7" x2="384.8" y2="74.7" stroke="#4a4a4a" stroke-width="1.1"/>
<circle cx="411.6" cy="69.3" r="1.5" fill="#cbcb98" stroke="#111" stroke-width="0.85"/>
<circle cx="414.6" cy="71.4" r="1.5" fill="#cbcb98" stroke="#111" stroke-width="0.85"/>
<circle cx="418.1" cy="71.9" r="1.5" fill="#cbcb98" stroke="#111" stroke-width="0.85"/>
<circle cx="421.1" cy="71" r="1.5" fill="#cbcb98" stroke="#111" stroke-width="0.85"/>
<circle cx="424.1" cy="68.1" r="1.5" fill="#cbcb98" stroke="#111" stroke-width="0.85"/>
<circle cx="413.6" cy="73.4" r="1.5" fill="#cbcb98" stroke="#111" stroke-width="0.85"/>
<circle cx="417.9" cy="76.1" r="1.5" fill="#cbcb98" stroke="#111" stroke-width="0.85"/>
<circle cx="422.3" cy="74.1" r="1.5" fill="#cbcb98" stroke="#111" stroke-width="0.85"/>
<circle cx="416.0" cy="72.8" r="1.5" fill="#cbcb98" stroke="#111" stroke-width="0.85"/>
<line x1="410" y1="71.7" x2="426.3" y2="71.7" stroke="#4a4a4a" stroke-width="1.1"/>
<circle cx="437.8" cy="70.4" r="1.5" fill="#921628" stroke="#111" stroke-width="0.85"/>
<circle cx="437.8" cy="78.1" r="1.5" fill="#921628" stroke="#111" stroke-width="0.85"/>
<circle cx="435.9" cy="84.8" r="1.5" fill="#921628" stroke="#111" stroke-width="0.85"/>
<circle cx="439.7" cy="84.8" r="1.5" fill="#921628" stroke="#111" stroke-width="0.85"/>
<circle cx="437.8" cy="89.6" r="1.5" fill="#921628" stroke="#111" stroke-width="0.85"/>
<line x1="430.1" y1="84.4" x2="446.5" y2="84.4" stroke="#4a4a4a" stroke-width="1.1"/>
<circle cx="458.4" cy="65" r="1.5" fill="#5ea535" stroke="#111" stroke-width="0.85"/>
<circle cx="452.2" cy="70" r="1.5" fill="#5ea535" stroke="#111" stroke-width="0.85"/>
<circle cx="456.5" cy="71.3" r="1.5" fill="#5ea535" stroke="#111" stroke-width="0.85"/>
<circle cx="460.3" cy="70.8" r="1.5" fill="#5ea535" stroke="#111" stroke-width="0.85"/>
<circle cx="464.2" cy="70" r="1.5" fill="#5ea535" stroke="#111" stroke-width="0.85"/>
<circle cx="462.2" cy="73.7" r="1.5" fill="#5ea535" stroke="#111" stroke-width="0.85"/>
<circle cx="452.2" cy="75.2" r="1.5" fill="#5ea535" stroke="#111" stroke-width="0.85"/>
<circle cx="458.4" cy="75.2" r="1.5" fill="#5ea535" stroke="#111" stroke-width="0.85"/>
<circle cx="454.2" cy="79" r="1.5" fill="#5ea535" stroke="#111" stroke-width="0.85"/>
<circle cx="459.9" cy="79" r="1.5" fill="#5ea535" stroke="#111" stroke-width="0.85"/>
<circle cx="464.2" cy="78.5" r="1.5" fill="#5ea535" stroke="#111" stroke-width="0.85"/>
<circle cx="452.2" cy="83.5" r="1.5" fill="#5ea535" stroke="#111" stroke-width="0.85"/>
<circle cx="460.3" cy="84.2" r="1.5" fill="#5ea535" stroke="#111" stroke-width="0.85"/>
<circle cx="452.2" cy="88.1" r="1.5" fill="#5ea535" stroke="#111" stroke-width="0.85"/>
<circle cx="456.1" cy="90" r="1.5" fill="#5ea535" stroke="#111" stroke-width="0.85"/>
<circle cx="460.3" cy="89" r="1.5" fill="#5ea535" stroke="#111" stroke-width="0.85"/>
<circle cx="464.2" cy="87.3" r="1.5" fill="#5ea535" stroke="#111" stroke-width="0.85"/>
<circle cx="456.5" cy="81.9" r="1.5" fill="#5ea535" stroke="#111" stroke-width="0.85"/>
<line x1="450.3" y1="79" x2="466.7" y2="79" stroke="#4a4a4a" stroke-width="1.1"/>
<circle cx="484.5" cy="70" r="1.5" fill="#274a82" stroke="#111" stroke-width="0.85"/>
<circle cx="472.4" cy="73.3" r="1.5" fill="#274a82" stroke="#111" stroke-width="0.85"/>
<circle cx="476.3" cy="74.2" r="1.5" fill="#274a82" stroke="#111" stroke-width="0.85"/>
<circle cx="480.5" cy="73.7" r="1.5" fill="#274a82" stroke="#111" stroke-width="0.85"/>
<circle cx="476.3" cy="80" r="1.5" fill="#274a82" stroke="#111" stroke-width="0.85"/>
<circle cx="480.5" cy="80.4" r="1.5" fill="#274a82" stroke="#111" stroke-width="0.85"/>
<circle cx="472.4" cy="83.8" r="1.5" fill="#274a82" stroke="#111" stroke-width="0.85"/>
<circle cx="476.3" cy="86.7" r="1.5" fill="#274a82" stroke="#111" stroke-width="0.85"/>
<circle cx="480.5" cy="85.2" r="1.5" fill="#274a82" stroke="#111" stroke-width="0.85"/>
<circle cx="484.3" cy="83.3" r="1.5" fill="#274a82" stroke="#111" stroke-width="0.85"/>
<line x1="469.9" y1="80.4" x2="486.8" y2="80.4" stroke="#4a4a4a" stroke-width="1.1"/>
<circle cx="498.4" cy="66.2" r="1.5" fill="#ee9624" stroke="#111" stroke-width="0.85"/>
<circle cx="496.5" cy="70" r="1.5" fill="#ee9624" stroke="#111" stroke-width="0.85"/>
<circle cx="500.7" cy="73.7" r="1.5" fill="#ee9624" stroke="#111" stroke-width="0.85"/>
<circle cx="498.4" cy="82.5" r="1.5" fill="#ee9624" stroke="#111" stroke-width="0.85"/>
<circle cx="496.5" cy="87.3" r="1.5" fill="#ee9624" stroke="#111" stroke-width="0.85"/>
<circle cx="502.2" cy="88.1" r="1.5" fill="#ee9624" stroke="#111" stroke-width="0.85"/>
<circle cx="500.7" cy="90" r="1.5" fill="#ee9624" stroke="#111" stroke-width="0.85"/>
<circle cx="496.5" cy="93.1" r="1.5" fill="#ee9624" stroke="#111" stroke-width="0.85"/>
<line x1="490.3" y1="84.8" x2="507" y2="84.8" stroke="#4a4a4a" stroke-width="1.1"/>
<line x1="40.5" y1="177.2" x2="40.5" y2="249.3" stroke="#231f20" stroke-width="1.1"/>
<line x1="40.0" y1="248.8" x2="148.5" y2="248.8" stroke="#231f20" stroke-width="1.1"/>
<line x1="37.3" y1="248.7" x2="40.5" y2="248.7" stroke="#231f20" stroke-width="0.9"/>
<text x="34.2" y="251.0" font-size="6.6" fill="#262626" text-anchor="end" textLength="2.9" lengthAdjust="spacingAndGlyphs">0</text>
<line x1="40.5" y1="248.8" x2="40.5" y2="251.8" stroke="#231f20" stroke-width="0.8"/>
<text x="40.5" y="261.1" font-size="6.6" fill="#262626" text-anchor="middle" textLength="2.9" lengthAdjust="spacingAndGlyphs">0</text>
<line x1="37.3" y1="231.25" x2="40.5" y2="231.25" stroke="#231f20" stroke-width="0.9"/>
<text x="34.2" y="233.55" font-size="6.6" fill="#262626" text-anchor="end" textLength="2.9" lengthAdjust="spacingAndGlyphs">1</text>
<line x1="66.8" y1="248.8" x2="66.8" y2="251.8" stroke="#231f20" stroke-width="0.8"/>
<text x="66.8" y="261.1" font-size="6.6" fill="#262626" text-anchor="middle" textLength="2.9" lengthAdjust="spacingAndGlyphs">1</text>
<line x1="37.3" y1="213.79999999999998" x2="40.5" y2="213.79999999999998" stroke="#231f20" stroke-width="0.9"/>
<text x="34.2" y="216.1" font-size="6.6" fill="#262626" text-anchor="end" textLength="2.9" lengthAdjust="spacingAndGlyphs">2</text>
<line x1="93.1" y1="248.8" x2="93.1" y2="251.8" stroke="#231f20" stroke-width="0.8"/>
<text x="93.1" y="261.1" font-size="6.6" fill="#262626" text-anchor="middle" textLength="2.9" lengthAdjust="spacingAndGlyphs">2</text>
<line x1="37.3" y1="196.35" x2="40.5" y2="196.35" stroke="#231f20" stroke-width="0.9"/>
<text x="34.2" y="198.65" font-size="6.6" fill="#262626" text-anchor="end" textLength="2.9" lengthAdjust="spacingAndGlyphs">3</text>
<line x1="119.4" y1="248.8" x2="119.4" y2="251.8" stroke="#231f20" stroke-width="0.8"/>
<text x="119.4" y="261.1" font-size="6.6" fill="#262626" text-anchor="middle" textLength="2.9" lengthAdjust="spacingAndGlyphs">3</text>
<line x1="37.3" y1="178.89999999999998" x2="40.5" y2="178.89999999999998" stroke="#231f20" stroke-width="0.9"/>
<text x="34.2" y="181.2" font-size="6.6" fill="#262626" text-anchor="end" textLength="2.9" lengthAdjust="spacingAndGlyphs">4</text>
<line x1="145.7" y1="248.8" x2="145.7" y2="251.8" stroke="#231f20" stroke-width="0.8"/>
<text x="145.7" y="261.1" font-size="6.6" fill="#262626" text-anchor="middle" textLength="2.9" lengthAdjust="spacingAndGlyphs">4</text>
<text x="13.6" y="256.5" font-size="8.3" fill="#262626" text-anchor="start" textLength="88.1" lengthAdjust="spacingAndGlyphs" transform="rotate(-90 13.6 256.5)">CD37 surface expression</text>
<text x="24.2" y="244.2" font-size="8.3" fill="#262626" text-anchor="start" textLength="63.8" lengthAdjust="spacingAndGlyphs" transform="rotate(-90 24.2 244.2)">(relative to T cells)</text>
<text x="49.8" y="273.1" font-size="8.4" fill="#262626" text-anchor="start" textLength="88.9" lengthAdjust="spacingAndGlyphs">CD19 surface expression</text>
<text x="62.3" y="283.2" font-size="8.4" fill="#262626" text-anchor="start" textLength="65.2" lengthAdjust="spacingAndGlyphs">(relative to T cells)</text>
<text x="43.6" y="237.8" font-size="5.4" fill="#404040" text-anchor="start" textLength="17.2" lengthAdjust="spacingAndGlyphs">r=0.638</text>
<text x="43.6" y="244.9" font-size="5.4" fill="#404040" text-anchor="start" textLength="21.4" lengthAdjust="spacingAndGlyphs">p&lt;0.0001</text>
<circle cx="71.3" cy="203.5" r="1.4" fill="#921628" stroke="#111" stroke-width="0.85"/>
<circle cx="81.5" cy="205.9" r="1.4" fill="#921628" stroke="#111" stroke-width="0.85"/>
<circle cx="93.4" cy="201.9" r="1.4" fill="#921628" stroke="#111" stroke-width="0.85"/>
<circle cx="90.4" cy="205.6" r="1.4" fill="#921628" stroke="#111" stroke-width="0.85"/>
<circle cx="119.5" cy="195.2" r="1.4" fill="#921628" stroke="#111" stroke-width="0.85"/>
<circle cx="68.5" cy="213.7" r="1.4" fill="#5ea535" stroke="#111" stroke-width="0.85"/>
<circle cx="77.3" cy="216.3" r="1.4" fill="#5ea535" stroke="#111" stroke-width="0.85"/>
<circle cx="80.6" cy="211.7" r="1.4" fill="#5ea535" stroke="#111" stroke-width="0.85"/>
<circle cx="84" cy="214.2" r="1.4" fill="#5ea535" stroke="#111" stroke-width="0.85"/>
<circle cx="87.1" cy="202.8" r="1.4" fill="#5ea535" stroke="#111" stroke-width="0.85"/>
<circle cx="88.8" cy="209.6" r="1.4" fill="#5ea535" stroke="#111" stroke-width="0.85"/>
<circle cx="93.2" cy="204" r="1.4" fill="#5ea535" stroke="#111" stroke-width="0.85"/>
<circle cx="94.2" cy="205.8" r="1.4" fill="#5ea535" stroke="#111" stroke-width="0.85"/>
<circle cx="91.9" cy="207.3" r="1.4" fill="#5ea535" stroke="#111" stroke-width="0.85"/>
<circle cx="103.8" cy="198.6" r="1.4" fill="#5ea535" stroke="#111" stroke-width="0.85"/>
<circle cx="105.3" cy="204.8" r="1.4" fill="#5ea535" stroke="#111" stroke-width="0.85"/>
<circle cx="106.7" cy="197.1" r="1.4" fill="#5ea535" stroke="#111" stroke-width="0.85"/>
<circle cx="106.7" cy="199.1" r="1.4" fill="#5ea535" stroke="#111" stroke-width="0.85"/>
<circle cx="106.5" cy="188.2" r="1.4" fill="#5ea535" stroke="#111" stroke-width="0.85"/>
<circle cx="116.2" cy="191.1" r="1.4" fill="#5ea535" stroke="#111" stroke-width="0.85"/>
<circle cx="118.1" cy="191" r="1.4" fill="#5ea535" stroke="#111" stroke-width="0.85"/>
<circle cx="124.6" cy="196" r="1.4" fill="#5ea535" stroke="#111" stroke-width="0.85"/>
<circle cx="111.5" cy="214.4" r="1.4" fill="#5ea535" stroke="#111" stroke-width="0.85"/>
<circle cx="79" cy="225" r="1.4" fill="#274a82" stroke="#111" stroke-width="0.85"/>
<circle cx="85" cy="209.5" r="1.4" fill="#274a82" stroke="#111" stroke-width="0.85"/>
<circle cx="87.8" cy="216.3" r="1.4" fill="#274a82" stroke="#111" stroke-width="0.85"/>
<circle cx="99.6" cy="199.2" r="1.4" fill="#274a82" stroke="#111" stroke-width="0.85"/>
<circle cx="104.1" cy="200.8" r="1.4" fill="#274a82" stroke="#111" stroke-width="0.85"/>
<circle cx="106.3" cy="191.5" r="1.4" fill="#274a82" stroke="#111" stroke-width="0.85"/>
<circle cx="108.7" cy="195.8" r="1.4" fill="#274a82" stroke="#111" stroke-width="0.85"/>
<circle cx="114.8" cy="188.6" r="1.4" fill="#274a82" stroke="#111" stroke-width="0.85"/>
<circle cx="124.4" cy="192.3" r="1.4" fill="#274a82" stroke="#111" stroke-width="0.85"/>
<circle cx="126.7" cy="183.1" r="1.4" fill="#274a82" stroke="#111" stroke-width="0.85"/>
<circle cx="99.8" cy="207.5" r="1.4" fill="#ee9624" stroke="#111" stroke-width="0.85"/>
<circle cx="103.5" cy="206.3" r="1.4" fill="#ee9624" stroke="#111" stroke-width="0.85"/>
<circle cx="106.2" cy="200.4" r="1.4" fill="#ee9624" stroke="#111" stroke-width="0.85"/>
<circle cx="107.9" cy="203.5" r="1.4" fill="#ee9624" stroke="#111" stroke-width="0.85"/>
<circle cx="119.5" cy="203.7" r="1.4" fill="#ee9624" stroke="#111" stroke-width="0.85"/>
<circle cx="121.2" cy="197.7" r="1.4" fill="#ee9624" stroke="#111" stroke-width="0.85"/>
<circle cx="109.5" cy="213.4" r="1.4" fill="#ee9624" stroke="#111" stroke-width="0.85"/>
<circle cx="121.3" cy="215.5" r="1.3" fill="#921628" stroke="#111" stroke-width="0.5"/>
<text x="125.8" y="217.6" font-size="5.8" fill="#404040" text-anchor="start" textLength="4.6" lengthAdjust="spacingAndGlyphs">FL</text>
<circle cx="121.3" cy="224.65" r="1.3" fill="#5ea535" stroke="#111" stroke-width="0.5"/>
<text x="125.8" y="226.75" font-size="5.8" fill="#404040" text-anchor="start" textLength="15.0" lengthAdjust="spacingAndGlyphs">DLBCL</text>
<circle cx="121.3" cy="233.8" r="1.3" fill="#274a82" stroke="#111" stroke-width="0.5"/>
<text x="125.8" y="235.9" font-size="5.8" fill="#404040" text-anchor="start" textLength="9.6" lengthAdjust="spacingAndGlyphs">MCL</text>
<circle cx="121.3" cy="242.95" r="1.3" fill="#ee9624" stroke="#111" stroke-width="0.5"/>
<text x="125.8" y="245.04999999999998" font-size="5.8" fill="#404040" text-anchor="start" textLength="20.8" lengthAdjust="spacingAndGlyphs">CLL/MZL</text>
<text x="238.2" y="174.9" font-size="8.4" fill="#262626" text-anchor="start" textLength="41.6" lengthAdjust="spacingAndGlyphs">Tumor cells</text>
<line x1="180.1" y1="180.1" x2="337.5" y2="180.1" stroke="#3a3a3a" stroke-width="1.0"/>
<text x="204.79999999999998" y="189.1" font-size="6.4" fill="#262626" text-anchor="middle" textLength="21.8" lengthAdjust="spacingAndGlyphs">DLBCL 1</text>
<text x="259.5" y="189.1" font-size="6.4" fill="#262626" text-anchor="middle" textLength="21.8" lengthAdjust="spacingAndGlyphs">DLBCL 2</text>
<text x="314.5" y="189.1" font-size="6.4" fill="#262626" text-anchor="middle" textLength="21.8" lengthAdjust="spacingAndGlyphs">DLBCL 3</text>
<defs><radialGradient id="bg1" cx="0.56" cy="0.5" fx="0.6" fy="0.5" r="0.5"><stop offset="0" stop-color="#ffd83a"/><stop offset="0.16" stop-color="#f9a828"/><stop offset="0.32" stop-color="#e66a28"/><stop offset="0.46" stop-color="#b3382f"/><stop offset="0.58" stop-color="#5a1c44"/><stop offset="0.7" stop-color="#180818"/><stop offset="0.86" stop-color="#060606"/><stop offset="1" stop-color="#111" stop-opacity="0.55"/></radialGradient><radialGradient id="bg2" cx="0.5" cy="0.5" r="0.5"><stop offset="0" stop-color="#ffd83a"/><stop offset="0.16" stop-color="#f9a828"/><stop offset="0.32" stop-color="#e66a28"/><stop offset="0.46" stop-color="#b3382f"/><stop offset="0.58" stop-color="#5a1c44"/><stop offset="0.7" stop-color="#180818"/><stop offset="0.86" stop-color="#060606"/><stop offset="1" stop-color="#111" stop-opacity="0.55"/></radialGradient><radialGradient id="bg3" cx="0.55" cy="0.5" fx="0.58" fy="0.5" r="0.5"><stop offset="0" stop-color="#ffd83a"/><stop offset="0.22" stop-color="#f8a226"/><stop offset="0.45" stop-color="#dc6428"/><stop offset="0.62" stop-color="#8a3230"/><stop offset="0.78" stop-color="#3a2020" stop-opacity="0.85"/><stop offset="0.9" stop-color="#333" stop-opacity="0.6"/><stop offset="1" stop-color="#555" stop-opacity="0.2"/></radialGradient><filter id="bl" x="-50%" y="-50%" width="200%" height="200%"><feGaussianBlur stdDeviation="0.4"/></filter></defs>
<rect x="180.7" y="193.9" width="48.1" height="47.9" fill="none" stroke="#8a8a8a" stroke-width="0.8"/>
<line x1="200.89999999999998" y1="194" x2="200.89999999999998" y2="241.8" stroke="#9ea6d6" stroke-width="0.8"/>
<line x1="180.7" y1="241.9" x2="228.79999999999998" y2="241.9" stroke="#555" stroke-width="0.8" stroke-dasharray="2 0.6 1 0.8"/>
<line x1="180.7" y1="222.2" x2="228.79999999999998" y2="222.2" stroke="#9ea6d6" stroke-width="0.8"/>
<text x="181.7" y="198.9" font-size="4.6" fill="#6473b8" text-anchor="start" textLength="13.6" lengthAdjust="spacingAndGlyphs">0.29%</text>
<text x="227.7" y="198.9" font-size="4.6" fill="#6473b8" text-anchor="end" textLength="16.4" lengthAdjust="spacingAndGlyphs">99.01%</text>
<text x="181.7" y="240.0" font-size="4.6" fill="#6473b8" text-anchor="start" textLength="13.6" lengthAdjust="spacingAndGlyphs">0.27%</text>
<text x="227.7" y="240.0" font-size="4.6" fill="#6473b8" text-anchor="end" textLength="13.6" lengthAdjust="spacingAndGlyphs">0.41%</text>
<rect x="235.4" y="193.9" width="48.1" height="47.9" fill="none" stroke="#8a8a8a" stroke-width="0.8"/>
<line x1="255.0" y1="194" x2="255.0" y2="241.8" stroke="#9ea6d6" stroke-width="0.8"/>
<line x1="235.4" y1="241.9" x2="283.5" y2="241.9" stroke="#555" stroke-width="0.8" stroke-dasharray="2 0.6 1 0.8"/>
<line x1="235.4" y1="222.2" x2="283.5" y2="222.2" stroke="#9ea6d6" stroke-width="0.8"/>
<text x="236.4" y="198.9" font-size="4.6" fill="#6473b8" text-anchor="start" textLength="16.2" lengthAdjust="spacingAndGlyphs">25.91%</text>
<text x="282.4" y="198.9" font-size="4.6" fill="#6473b8" text-anchor="end" textLength="16.4" lengthAdjust="spacingAndGlyphs">74.04%</text>
<text x="236.4" y="240.0" font-size="4.6" fill="#6473b8" text-anchor="start" textLength="13.6" lengthAdjust="spacingAndGlyphs">0.04%</text>
<text x="282.4" y="240.0" font-size="4.6" fill="#6473b8" text-anchor="end" textLength="13.6" lengthAdjust="spacingAndGlyphs">0.01%</text>
<rect x="290.4" y="193.9" width="48.1" height="47.9" fill="none" stroke="#8a8a8a" stroke-width="0.8"/>
<line x1="310.29999999999995" y1="194" x2="310.29999999999995" y2="241.8" stroke="#9ea6d6" stroke-width="0.8"/>
<line x1="290.4" y1="241.9" x2="338.5" y2="241.9" stroke="#555" stroke-width="0.8" stroke-dasharray="2 0.6 1 0.8"/>
<line x1="290.4" y1="222.2" x2="338.5" y2="222.2" stroke="#9ea6d6" stroke-width="0.8"/>
<text x="291.4" y="198.9" font-size="4.6" fill="#6473b8" text-anchor="start" textLength="13.6" lengthAdjust="spacingAndGlyphs">0.08%</text>
<text x="337.4" y="198.9" font-size="4.6" fill="#6473b8" text-anchor="end" textLength="16.4" lengthAdjust="spacingAndGlyphs">82.53%</text>
<text x="291.4" y="240.0" font-size="4.6" fill="#6473b8" text-anchor="start" textLength="13.6" lengthAdjust="spacingAndGlyphs">0.66%</text>
<text x="337.4" y="240.0" font-size="4.6" fill="#6473b8" text-anchor="end" textLength="16.4" lengthAdjust="spacingAndGlyphs">16.73%</text>
<circle cx="217.35" cy="209.38" r="0.35" fill="rgb(146,146,146)"/>
<circle cx="219.14" cy="203.36" r="0.35" fill="rgb(185,185,185)"/>
<circle cx="206.36" cy="223.66" r="0.35" fill="rgb(173,173,173)"/>
<circle cx="200.53" cy="221.44" r="0.35" fill="rgb(97,97,97)"/>
<circle cx="203.39" cy="222.08" r="0.35" fill="rgb(90,90,90)"/>
<circle cx="216.59" cy="206.35" r="0.35" fill="rgb(100,100,100)"/>
<circle cx="206.82" cy="203.04" r="0.35" fill="rgb(159,159,159)"/>
<circle cx="214.11" cy="214.45" r="0.35" fill="rgb(112,112,112)"/>
<circle cx="214.77" cy="199.19" r="0.35" fill="rgb(183,183,183)"/>
<circle cx="204.25" cy="224.73" r="0.35" fill="rgb(177,177,177)"/>
<circle cx="219.70" cy="201.00" r="0.35" fill="rgb(217,217,217)"/>
<circle cx="211.87" cy="220.44" r="0.35" fill="rgb(206,206,206)"/>
<circle cx="216.99" cy="207.56" r="0.35" fill="rgb(116,116,116)"/>
<circle cx="206.20" cy="204.00" r="0.35" fill="rgb(144,144,144)"/>
<circle cx="198.51" cy="219.24" r="0.35" fill="rgb(123,123,123)"/>
<circle cx="205.84" cy="224.28" r="0.35" fill="rgb(184,184,184)"/>
<circle cx="218.68" cy="203.08" r="0.35" fill="rgb(174,174,174)"/>
<circle cx="214.43" cy="213.26" r="0.35" fill="rgb(97,97,97)"/>
<circle cx="202.12" cy="225.58" r="0.35" fill="rgb(189,189,189)"/>
<circle cx="197.85" cy="219.50" r="0.35" fill="rgb(144,144,144)"/>
<circle cx="210.77" cy="220.15" r="0.35" fill="rgb(163,163,163)"/>
<circle cx="198.61" cy="211.58" r="0.35" fill="rgb(200,200,200)"/>
<circle cx="198.23" cy="219.88" r="0.35" fill="rgb(134,134,134)"/>
<circle cx="210.07" cy="200.65" r="0.35" fill="rgb(171,171,171)"/>
<circle cx="211.85" cy="220.05" r="0.35" fill="rgb(194,194,194)"/>
<circle cx="220.09" cy="205.96" r="0.35" fill="rgb(218,218,218)"/>
<circle cx="202.49" cy="207.34" r="0.35" fill="rgb(158,158,158)"/>
<circle cx="200.57" cy="222.59" r="0.35" fill="rgb(118,118,118)"/>
<circle cx="200.40" cy="213.68" r="0.35" fill="rgb(91,91,91)"/>
<circle cx="196.29" cy="221.49" r="0.35" fill="rgb(197,197,197)"/>
<circle cx="210.12" cy="222.10" r="0.35" fill="rgb(208,208,208)"/>
<circle cx="196.42" cy="219.92" r="0.35" fill="rgb(190,190,190)"/>
<circle cx="200.67" cy="225.17" r="0.35" fill="rgb(178,178,178)"/>
<circle cx="215.00" cy="198.40" r="0.35" fill="rgb(205,205,205)"/>
<circle cx="198.23" cy="214.37" r="0.35" fill="rgb(165,165,165)"/>
<circle cx="201.20" cy="211.62" r="0.35" fill="rgb(97,97,97)"/>
<circle cx="217.05" cy="199.81" r="0.35" fill="rgb(185,185,185)"/>
<circle cx="212.18" cy="220.00" r="0.35" fill="rgb(203,203,203)"/>
<circle cx="198.67" cy="213.97" r="0.35" fill="rgb(154,154,154)"/>
<circle cx="202.33" cy="221.80" r="0.35" fill="rgb(85,85,85)"/>
<circle cx="217.14" cy="207.44" r="0.35" fill="rgb(121,121,121)"/>
<circle cx="204.00" cy="207.61" r="0.35" fill="rgb(97,97,97)"/>
<circle cx="213.05" cy="216.02" r="0.35" fill="rgb(113,113,113)"/>
<circle cx="209.73" cy="201.32" r="0.35" fill="rgb(155,155,155)"/>
<circle cx="202.48" cy="222.51" r="0.35" fill="rgb(103,103,103)"/>
<circle cx="210.64" cy="200.31" r="0.35" fill="rgb(174,174,174)"/>
<circle cx="209.44" cy="200.04" r="0.35" fill="rgb(203,203,203)"/>
<circle cx="203.57" cy="223.70" r="0.35" fill="rgb(139,139,139)"/>
<circle cx="210.51" cy="201.09" r="0.35" fill="rgb(151,151,151)"/>
<circle cx="219.38" cy="208.76" r="0.35" fill="rgb(216,216,216)"/>
<circle cx="213.94" cy="215.11" r="0.35" fill="rgb(122,122,122)"/>
<circle cx="200.37" cy="223.16" r="0.35" fill="rgb(132,132,132)"/>
<circle cx="213.29" cy="217.97" r="0.35" fill="rgb(179,179,179)"/>
<circle cx="204.28" cy="221.44" r="0.35" fill="rgb(75,75,75)"/>
<circle cx="197.75" cy="220.76" r="0.35" fill="rgb(152,152,152)"/>
<circle cx="197.86" cy="212.32" r="0.35" fill="rgb(215,215,215)"/>
<circle cx="197.16" cy="217.92" r="0.35" fill="rgb(170,170,170)"/>
<circle cx="218.97" cy="202.22" r="0.35" fill="rgb(188,188,188)"/>
<circle cx="203.21" cy="204.79" r="0.35" fill="rgb(210,210,210)"/>
<circle cx="204.51" cy="203.55" r="0.35" fill="rgb(208,208,208)"/>
<circle cx="204.34" cy="224.01" r="0.35" fill="rgb(155,155,155)"/>
<circle cx="199.26" cy="215.92" r="0.35" fill="rgb(108,108,108)"/>
<circle cx="216.41" cy="205.27" r="0.35" fill="rgb(98,98,98)"/>
<circle cx="216.58" cy="210.32" r="0.35" fill="rgb(128,128,128)"/>
<circle cx="217.75" cy="203.25" r="0.35" fill="rgb(148,148,148)"/>
<circle cx="215.17" cy="210.08" r="0.35" fill="rgb(70,70,70)"/>
<circle cx="206.76" cy="221.51" r="0.35" fill="rgb(108,108,108)"/>
<circle cx="209.50" cy="203.50" r="0.35" fill="rgb(86,86,86)"/>
<circle cx="218.44" cy="208.88" r="0.35" fill="rgb(181,181,181)"/>
<circle cx="207.65" cy="221.80" r="0.35" fill="rgb(135,135,135)"/>
<circle cx="218.00" cy="207.34" r="0.35" fill="rgb(151,151,151)"/>
<circle cx="217.57" cy="199.11" r="0.35" fill="rgb(205,205,205)"/>
<circle cx="199.64" cy="224.30" r="0.35" fill="rgb(164,164,164)"/>
<circle cx="216.70" cy="206.88" r="0.35" fill="rgb(104,104,104)"/>
<circle cx="212.73" cy="217.63" r="0.35" fill="rgb(148,148,148)"/>
<circle cx="218.72" cy="209.76" r="0.35" fill="rgb(204,204,204)"/>
<circle cx="213.05" cy="202.73" r="0.35" fill="rgb(85,85,85)"/>
<circle cx="218.21" cy="208.82" r="0.35" fill="rgb(172,172,172)"/>
<circle cx="217.93" cy="201.35" r="0.35" fill="rgb(174,174,174)"/>
<circle cx="216.10" cy="199.93" r="0.35" fill="rgb(172,172,172)"/>
<circle cx="198.32" cy="211.82" r="0.35" fill="rgb(207,207,207)"/>
<circle cx="206.46" cy="222.53" r="0.35" fill="rgb(137,137,137)"/>
<circle cx="203.85" cy="206.98" r="0.35" fill="rgb(121,121,121)"/>
<circle cx="203.61" cy="205.58" r="0.35" fill="rgb(172,172,172)"/>
<circle cx="214.85" cy="214.68" r="0.35" fill="rgb(147,147,147)"/>
<circle cx="217.10" cy="199.02" r="0.35" fill="rgb(202,202,202)"/>
<circle cx="205.13" cy="203.05" r="0.35" fill="rgb(206,206,206)"/>
<circle cx="200.72" cy="208.09" r="0.35" fill="rgb(202,202,202)"/>
<circle cx="199.32" cy="222.26" r="0.35" fill="rgb(131,131,131)"/>
<circle cx="217.32" cy="202.15" r="0.35" fill="rgb(150,150,150)"/>
<circle cx="211.14" cy="217.41" r="0.35" fill="rgb(87,87,87)"/>
<circle cx="199.93" cy="212.17" r="0.35" fill="rgb(136,136,136)"/>
<circle cx="200.44" cy="226.59" r="0.35" fill="rgb(216,216,216)"/>
<circle cx="217.54" cy="198.69" r="0.35" fill="rgb(214,214,214)"/>
<circle cx="206.26" cy="225.00" r="0.35" fill="rgb(215,215,215)"/>
<circle cx="214.33" cy="214.83" r="0.35" fill="rgb(130,130,130)"/>
<circle cx="215.18" cy="213.25" r="0.35" fill="rgb(126,126,126)"/>
<circle cx="211.84" cy="199.61" r="0.35" fill="rgb(183,183,183)"/>
<circle cx="198.89" cy="225.80" r="0.35" fill="rgb(205,205,205)"/>
<circle cx="204.83" cy="203.94" r="0.35" fill="rgb(186,186,186)"/>
<circle cx="199.87" cy="214.23" r="0.35" fill="rgb(104,104,104)"/>
<circle cx="203.36" cy="204.60" r="0.35" fill="rgb(211,211,211)"/>
<circle cx="199.17" cy="225.52" r="0.35" fill="rgb(196,196,196)"/>
<circle cx="204.76" cy="205.95" r="0.35" fill="rgb(123,123,123)"/>
<circle cx="205.23" cy="204.75" r="0.35" fill="rgb(147,147,147)"/>
<circle cx="203.91" cy="226.09" r="0.35" fill="rgb(217,217,217)"/>
<circle cx="214.22" cy="200.15" r="0.35" fill="rgb(156,156,156)"/>
<circle cx="218.16" cy="210.55" r="0.35" fill="rgb(193,193,193)"/>
<circle cx="216.40" cy="209.69" r="0.35" fill="rgb(113,113,113)"/>
<circle cx="205.12" cy="202.90" r="0.35" fill="rgb(211,211,211)"/>
<circle cx="206.93" cy="204.21" r="0.35" fill="rgb(117,117,117)"/>
<circle cx="196.55" cy="215.30" r="0.35" fill="rgb(218,218,218)"/>
<circle cx="198.08" cy="221.58" r="0.35" fill="rgb(149,149,149)"/>
<circle cx="215.92" cy="202.79" r="0.35" fill="rgb(114,114,114)"/>
<circle cx="196.35" cy="215.96" r="0.35" fill="rgb(217,217,217)"/>
<circle cx="213.77" cy="199.60" r="0.35" fill="rgb(172,172,172)"/>
<circle cx="209.78" cy="201.13" r="0.35" fill="rgb(160,160,160)"/>
<circle cx="216.68" cy="214.07" r="0.35" fill="rgb(203,203,203)"/>
<circle cx="210.94" cy="219.13" r="0.35" fill="rgb(135,135,135)"/>
<circle cx="198.19" cy="219.20" r="0.35" fill="rgb(133,133,133)"/>
<circle cx="203.40" cy="223.63" r="0.35" fill="rgb(136,136,136)"/>
<circle cx="211.61" cy="201.87" r="0.35" fill="rgb(114,114,114)"/>
<circle cx="201.14" cy="224.16" r="0.35" fill="rgb(150,150,150)"/>
<circle cx="212.06" cy="199.69" r="0.35" fill="rgb(178,178,178)"/>
<circle cx="212.64" cy="200.18" r="0.35" fill="rgb(159,159,159)"/>
<circle cx="197.88" cy="222.90" r="0.35" fill="rgb(169,169,169)"/>
<circle cx="217.62" cy="201.09" r="0.35" fill="rgb(171,171,171)"/>
<circle cx="216.84" cy="211.71" r="0.35" fill="rgb(161,161,161)"/>
<circle cx="205.73" cy="206.49" r="0.35" fill="rgb(75,75,75)"/>
<circle cx="201.07" cy="222.98" r="0.35" fill="rgb(122,122,122)"/>
<circle cx="196.63" cy="222.38" r="0.35" fill="rgb(193,193,193)"/>
<circle cx="198.88" cy="222.72" r="0.35" fill="rgb(146,146,146)"/>
<circle cx="203.91" cy="205.18" r="0.35" fill="rgb(175,175,175)"/>
<circle cx="199.14" cy="219.93" r="0.35" fill="rgb(109,109,109)"/>
<circle cx="211.85" cy="218.17" r="0.35" fill="rgb(135,135,135)"/>
<circle cx="197.83" cy="224.77" r="0.35" fill="rgb(198,198,198)"/>
<circle cx="202.39" cy="206.87" r="0.35" fill="rgb(176,176,176)"/>
<circle cx="200.76" cy="226.46" r="0.35" fill="rgb(211,211,211)"/>
<circle cx="198.35" cy="224.30" r="0.35" fill="rgb(181,181,181)"/>
<circle cx="199.10" cy="212.14" r="0.35" fill="rgb(170,170,170)"/>
<circle cx="201.40" cy="219.62" r="0.4" fill="rgb(117,117,117)"/>
<circle cx="196.05" cy="226.08" r="0.4" fill="rgb(191,191,191)"/>
<circle cx="196.61" cy="229.31" r="0.4" fill="rgb(191,191,191)"/>
<circle cx="196.97" cy="227.59" r="0.4" fill="rgb(191,191,191)"/>
<circle cx="206.09" cy="214.47" r="0.4" fill="rgb(68,68,68)"/>
<circle cx="206.37" cy="216.98" r="0.4" fill="rgb(86,86,86)"/>
<circle cx="199.03" cy="225.04" r="0.4" fill="rgb(167,167,167)"/>
<circle cx="199.08" cy="223.79" r="0.4" fill="rgb(157,157,157)"/>
<circle cx="198.08" cy="226.90" r="0.4" fill="rgb(182,182,182)"/>
<circle cx="195.64" cy="228.90" r="0.4" fill="rgb(192,192,192)"/>
<circle cx="196.41" cy="228.32" r="0.4" fill="rgb(198,198,198)"/>
<circle cx="201.86" cy="219.42" r="0.4" fill="rgb(114,114,114)"/>
<circle cx="204.90" cy="217.02" r="0.4" fill="rgb(79,79,79)"/>
<circle cx="206.65" cy="212.27" r="0.4" fill="rgb(52,52,52)"/>
<circle cx="207.00" cy="213.82" r="0.4" fill="rgb(52,52,52)"/>
<circle cx="204.47" cy="221.99" r="0.4" fill="rgb(126,126,126)"/>
<circle cx="198.98" cy="225.38" r="0.4" fill="rgb(168,168,168)"/>
<circle cx="206.42" cy="217.16" r="0.4" fill="rgb(89,89,89)"/>
<circle cx="205.40" cy="217.58" r="0.4" fill="rgb(90,90,90)"/>
<circle cx="197.38" cy="226.82" r="0.4" fill="rgb(186,186,186)"/>
<circle cx="207.26" cy="214.16" r="0.4" fill="rgb(72,72,72)"/>
<circle cx="199.86" cy="224.18" r="0.4" fill="rgb(155,155,155)"/>
<circle cx="199.36" cy="223.97" r="0.4" fill="rgb(153,153,153)"/>
<circle cx="195.54" cy="226.63" r="0.4" fill="rgb(190,190,190)"/>
<circle cx="207.13" cy="213.41" r="0.4" fill="rgb(62,62,62)"/>
<circle cx="196.76" cy="226.97" r="0.4" fill="rgb(179,179,179)"/>
<circle cx="202.03" cy="221.19" r="0.4" fill="rgb(132,132,132)"/>
<circle cx="205.63" cy="214.33" r="0.4" fill="rgb(69,69,69)"/>
<circle cx="206.77" cy="214.40" r="0.4" fill="rgb(66,66,66)"/>
<circle cx="205.18" cy="216.46" r="0.4" fill="rgb(80,80,80)"/>
<circle cx="198.57" cy="226.12" r="0.4" fill="rgb(163,163,163)"/>
<circle cx="205.67" cy="215.43" r="0.4" fill="rgb(76,76,76)"/>
<circle cx="206.54" cy="216.64" r="0.4" fill="rgb(87,87,87)"/>
<circle cx="201.76" cy="222.56" r="0.4" fill="rgb(132,132,132)"/>
<circle cx="198.23" cy="229.05" r="0.4" fill="rgb(190,190,190)"/>
<circle cx="200.86" cy="219.58" r="0.4" fill="rgb(114,114,114)"/>
<circle cx="201.70" cy="218.80" r="0.4" fill="rgb(108,108,108)"/>
<circle cx="195.17" cy="230.28" r="0.4" fill="rgb(197,197,197)"/>
<circle cx="198.82" cy="223.33" r="0.4" fill="rgb(156,156,156)"/>
<circle cx="204.26" cy="218.28" r="0.4" fill="rgb(102,102,102)"/>
<circle cx="207.01" cy="212.71" r="0.4" fill="rgb(60,60,60)"/>
<circle cx="207.61" cy="216.00" r="0.4" fill="rgb(74,74,74)"/>
<circle cx="197.15" cy="226.12" r="0.4" fill="rgb(180,180,180)"/>
<circle cx="204.72" cy="217.41" r="0.4" fill="rgb(86,86,86)"/>
<circle cx="205.29" cy="215.19" r="0.4" fill="rgb(73,73,73)"/>
<circle cx="213.65" cy="202.50" r="0.45" fill="rgb(42,42,42)"/>
<circle cx="212.83" cy="215.57" r="0.45" fill="rgb(28,28,28)"/>
<circle cx="207.30" cy="219.48" r="0.45" fill="rgb(32,32,32)"/>
<circle cx="202.15" cy="221.22" r="0.45" fill="rgb(22,22,22)"/>
<circle cx="201.84" cy="219.95" r="0.45" fill="rgb(25,25,25)"/>
<circle cx="215.58" cy="206.99" r="0.45" fill="rgb(12,12,12)"/>
<circle cx="214.72" cy="204.64" r="0.45" fill="rgb(23,23,23)"/>
<circle cx="200.05" cy="217.92" r="0.45" fill="rgb(55,55,55)"/>
<circle cx="200.43" cy="214.26" r="0.45" fill="rgb(62,62,62)"/>
<circle cx="205.73" cy="220.68" r="0.45" fill="rgb(69,69,69)"/>
<circle cx="215.53" cy="209.87" r="0.45" fill="rgb(48,48,48)"/>
<circle cx="215.79" cy="204.59" r="0.45" fill="rgb(63,63,63)"/>
<circle cx="199.94" cy="215.98" r="0.45" fill="rgb(58,58,58)"/>
<circle cx="215.43" cy="209.39" r="0.45" fill="rgb(40,40,40)"/>
<circle cx="207.47" cy="204.73" r="0.45" fill="rgb(59,59,59)"/>
<circle cx="199.54" cy="218.36" r="0.45" fill="rgb(50,50,50)"/>
<circle cx="201.88" cy="212.16" r="0.45" fill="rgb(11,11,11)"/>
<circle cx="215.29" cy="209.15" r="0.45" fill="rgb(16,16,16)"/>
<circle cx="207.53" cy="205.01" r="0.45" fill="rgb(47,47,47)"/>
<circle cx="200.00" cy="216.01" r="0.45" fill="rgb(39,39,39)"/>
<circle cx="214.86" cy="203.43" r="0.45" fill="rgb(54,54,54)"/>
<circle cx="201.26" cy="220.78" r="0.45" fill="rgb(49,49,49)"/>
<circle cx="215.93" cy="205.59" r="0.45" fill="rgb(25,25,25)"/>
<circle cx="215.34" cy="206.47" r="0.45" fill="rgb(53,53,53)"/>
<circle cx="214.12" cy="213.17" r="0.45" fill="rgb(68,68,68)"/>
<circle cx="201.68" cy="220.73" r="0.45" fill="rgb(38,38,38)"/>
<circle cx="200.99" cy="212.72" r="0.45" fill="rgb(47,47,47)"/>
<circle cx="201.01" cy="214.80" r="0.45" fill="rgb(18,18,18)"/>
<circle cx="212.24" cy="215.98" r="0.45" fill="rgb(28,28,28)"/>
<circle cx="200.85" cy="218.11" r="0.45" fill="rgb(13,13,13)"/>
<circle cx="211.54" cy="216.73" r="0.45" fill="rgb(51,51,51)"/>
<circle cx="201.36" cy="213.13" r="0.45" fill="rgb(40,40,40)"/>
<circle cx="202.53" cy="221.26" r="0.45" fill="rgb(17,17,17)"/>
<circle cx="210.20" cy="204.04" r="0.45" fill="rgb(68,68,68)"/>
<circle cx="211.84" cy="203.97" r="0.45" fill="rgb(37,37,37)"/>
<circle cx="206.66" cy="205.13" r="0.45" fill="rgb(36,36,36)"/>
<circle cx="211.25" cy="216.37" r="0.45" fill="rgb(66,66,66)"/>
<circle cx="213.77" cy="213.46" r="0.45" fill="rgb(18,18,18)"/>
<circle cx="200.23" cy="220.83" r="0.45" fill="rgb(17,17,17)"/>
<circle cx="206.77" cy="205.66" r="0.45" fill="rgb(63,63,63)"/>
<circle cx="202.16" cy="211.61" r="0.45" fill="rgb(63,63,63)"/>
<circle cx="202.30" cy="220.31" r="0.45" fill="rgb(10,10,10)"/>
<circle cx="201.67" cy="220.88" r="0.45" fill="rgb(28,28,28)"/>
<circle cx="215.17" cy="209.56" r="0.45" fill="rgb(28,28,28)"/>
<circle cx="207.76" cy="205.59" r="0.45" fill="rgb(55,55,55)"/>
<circle cx="207.71" cy="205.47" r="0.45" fill="rgb(65,65,65)"/>
<circle cx="201.78" cy="210.93" r="0.45" fill="rgb(27,27,27)"/>
<circle cx="206.51" cy="220.43" r="0.45" fill="rgb(69,69,69)"/>
<circle cx="200.27" cy="217.60" r="0.45" fill="rgb(35,35,35)"/>
<circle cx="210.89" cy="216.54" r="0.45" fill="rgb(16,16,16)"/>
<circle cx="207.49" cy="205.40" r="0.45" fill="rgb(66,66,66)"/>
<circle cx="212.07" cy="215.45" r="0.45" fill="rgb(40,40,40)"/>
<circle cx="214.18" cy="212.25" r="0.45" fill="rgb(67,67,67)"/>
<circle cx="210.00" cy="203.27" r="0.45" fill="rgb(47,47,47)"/>
<circle cx="211.50" cy="202.61" r="0.45" fill="rgb(42,42,42)"/>
<circle cx="202.85" cy="210.79" r="0.45" fill="rgb(53,53,53)"/>
<circle cx="202.79" cy="221.81" r="0.45" fill="rgb(48,48,48)"/>
<circle cx="210.42" cy="217.04" r="0.45" fill="rgb(65,65,65)"/>
<circle cx="215.51" cy="208.78" r="0.45" fill="rgb(30,30,30)"/>
<circle cx="210.20" cy="218.23" r="0.45" fill="rgb(68,68,68)"/>
<circle cx="211.91" cy="216.26" r="0.45" fill="rgb(28,28,28)"/>
<circle cx="200.42" cy="218.95" r="0.45" fill="rgb(20,20,20)"/>
<circle cx="214.64" cy="210.73" r="0.45" fill="rgb(64,64,64)"/>
<circle cx="201.78" cy="220.43" r="0.45" fill="rgb(64,64,64)"/>
<circle cx="214.26" cy="203.81" r="0.45" fill="rgb(18,18,18)"/>
<circle cx="213.79" cy="212.39" r="0.45" fill="rgb(30,30,30)"/>
<circle cx="215.36" cy="207.21" r="0.45" fill="rgb(25,25,25)"/>
<circle cx="199.63" cy="219.02" r="0.45" fill="rgb(54,54,54)"/>
<circle cx="204.64" cy="221.14" r="0.45" fill="rgb(41,41,41)"/>
<circle cx="206.31" cy="220.45" r="0.45" fill="rgb(13,13,13)"/>
<circle cx="211.30" cy="217.43" r="0.45" fill="rgb(17,17,17)"/>
<circle cx="201.14" cy="220.92" r="0.45" fill="rgb(61,61,61)"/>
<circle cx="213.28" cy="213.68" r="0.45" fill="rgb(24,24,24)"/>
<circle cx="205.21" cy="221.03" r="0.45" fill="rgb(67,67,67)"/>
<circle cx="208.18" cy="204.15" r="0.45" fill="rgb(11,11,11)"/>
<circle cx="215.43" cy="204.36" r="0.45" fill="rgb(63,63,63)"/>
<circle cx="202.11" cy="221.37" r="0.45" fill="rgb(10,10,10)"/>
<circle cx="205.39" cy="221.65" r="0.45" fill="rgb(59,59,59)"/>
<circle cx="208.55" cy="203.80" r="0.45" fill="rgb(24,24,24)"/>
<circle cx="215.21" cy="208.10" r="0.45" fill="rgb(41,41,41)"/>
<circle cx="200.74" cy="212.83" r="0.45" fill="rgb(53,53,53)"/>
<circle cx="200.18" cy="214.87" r="0.45" fill="rgb(37,37,37)"/>
<circle cx="200.96" cy="218.72" r="0.45" fill="rgb(56,56,56)"/>
<circle cx="213.29" cy="214.85" r="0.45" fill="rgb(48,48,48)"/>
<circle cx="209.69" cy="217.85" r="0.45" fill="rgb(25,25,25)"/>
<circle cx="200.09" cy="215.47" r="0.45" fill="rgb(16,16,16)"/>
<circle cx="215.68" cy="206.02" r="0.45" fill="rgb(44,44,44)"/>
<circle cx="205.83" cy="220.50" r="0.45" fill="rgb(46,46,46)"/>
<circle cx="214.45" cy="204.33" r="0.45" fill="rgb(37,37,37)"/>
<circle cx="213.23" cy="203.01" r="0.45" fill="rgb(63,63,63)"/>
<circle cx="202.40" cy="220.78" r="0.45" fill="rgb(24,24,24)"/>
<circle cx="213.35" cy="202.92" r="0.45" fill="rgb(28,28,28)"/>
<circle cx="214.94" cy="204.34" r="0.45" fill="rgb(50,50,50)"/>
<circle cx="204.43" cy="220.95" r="0.45" fill="rgb(50,50,50)"/>
<circle cx="211.56" cy="203.67" r="0.45" fill="rgb(12,12,12)"/>
<circle cx="208.15" cy="219.48" r="0.45" fill="rgb(50,50,50)"/>
<circle cx="214.41" cy="212.75" r="0.45" fill="rgb(54,54,54)"/>
<circle cx="201.60" cy="220.25" r="0.45" fill="rgb(68,68,68)"/>
<circle cx="209.53" cy="218.94" r="0.45" fill="rgb(23,23,23)"/>
<circle cx="213.57" cy="214.13" r="0.45" fill="rgb(27,27,27)"/>
<circle cx="212.83" cy="203.21" r="0.45" fill="rgb(21,21,21)"/>
<circle cx="213.17" cy="214.13" r="0.45" fill="rgb(49,49,49)"/>
<circle cx="212.41" cy="203.77" r="0.45" fill="rgb(33,33,33)"/>
<circle cx="214.10" cy="213.68" r="0.45" fill="rgb(18,18,18)"/>
<circle cx="214.87" cy="205.86" r="0.45" fill="rgb(33,33,33)"/>
<circle cx="210.73" cy="202.90" r="0.45" fill="rgb(53,53,53)"/>
<circle cx="214.85" cy="203.10" r="0.45" fill="rgb(29,29,29)"/>
<circle cx="214.95" cy="211.98" r="0.45" fill="rgb(54,54,54)"/>
<circle cx="215.36" cy="204.41" r="0.45" fill="rgb(32,32,32)"/>
<circle cx="206.45" cy="220.38" r="0.45" fill="rgb(20,20,20)"/>
<circle cx="214.24" cy="204.20" r="0.45" fill="rgb(31,31,31)"/>
<circle cx="212.63" cy="203.83" r="0.45" fill="rgb(67,67,67)"/>
<circle cx="213.65" cy="213.23" r="0.45" fill="rgb(59,59,59)"/>
<circle cx="206.87" cy="205.68" r="0.45" fill="rgb(12,12,12)"/>
<circle cx="202.32" cy="221.02" r="0.45" fill="rgb(65,65,65)"/>
<circle cx="214.08" cy="212.43" r="0.45" fill="rgb(63,63,63)"/>
<circle cx="215.00" cy="204.71" r="0.45" fill="rgb(58,58,58)"/>
<circle cx="204.57" cy="208.45" r="0.45" fill="rgb(12,12,12)"/>
<circle cx="216.15" cy="205.23" r="0.45" fill="rgb(25,25,25)"/>
<circle cx="203.15" cy="208.90" r="0.45" fill="rgb(30,30,30)"/>
<ellipse cx="207.9" cy="212.3" rx="10.6" ry="5.4" fill="url(#bg1)" filter="url(#bl)" transform="rotate(-52.5 207.9 212.3)"/>
<circle cx="267.24" cy="198.42" r="0.35" fill="rgb(138,138,138)"/>
<circle cx="260.89" cy="215.55" r="0.35" fill="rgb(182,182,182)"/>
<circle cx="256.15" cy="219.06" r="0.35" fill="rgb(192,192,192)"/>
<circle cx="268.85" cy="199.45" r="0.35" fill="rgb(139,139,139)"/>
<circle cx="266.55" cy="196.25" r="0.35" fill="rgb(196,196,196)"/>
<circle cx="267.90" cy="196.72" r="0.35" fill="rgb(184,184,184)"/>
<circle cx="261.61" cy="212.39" r="0.35" fill="rgb(86,86,86)"/>
<circle cx="268.06" cy="197.48" r="0.35" fill="rgb(165,165,165)"/>
<circle cx="249.73" cy="222.39" r="0.35" fill="rgb(215,215,215)"/>
<circle cx="248.62" cy="220.07" r="0.35" fill="rgb(135,135,135)"/>
<circle cx="266.56" cy="197.20" r="0.35" fill="rgb(168,168,168)"/>
<circle cx="257.03" cy="201.78" r="0.35" fill="rgb(124,124,124)"/>
<circle cx="258.82" cy="198.96" r="0.35" fill="rgb(195,195,195)"/>
<circle cx="243.43" cy="214.75" r="0.35" fill="rgb(198,198,198)"/>
<circle cx="256.04" cy="217.98" r="0.35" fill="rgb(146,146,146)"/>
<circle cx="255.40" cy="202.20" r="0.35" fill="rgb(151,151,151)"/>
<circle cx="264.00" cy="210.43" r="0.35" fill="rgb(102,102,102)"/>
<circle cx="262.32" cy="214.73" r="0.35" fill="rgb(196,196,196)"/>
<circle cx="267.84" cy="201.66" r="0.35" fill="rgb(99,99,99)"/>
<circle cx="255.41" cy="219.03" r="0.35" fill="rgb(175,175,175)"/>
<circle cx="264.46" cy="196.00" r="0.35" fill="rgb(218,218,218)"/>
<circle cx="261.01" cy="216.39" r="0.35" fill="rgb(218,218,218)"/>
<circle cx="267.75" cy="204.44" r="0.35" fill="rgb(103,103,103)"/>
<circle cx="249.66" cy="206.76" r="0.35" fill="rgb(168,168,168)"/>
<circle cx="262.86" cy="213.33" r="0.35" fill="rgb(162,162,162)"/>
<circle cx="245.26" cy="213.29" r="0.35" fill="rgb(158,158,158)"/>
<circle cx="252.25" cy="203.74" r="0.35" fill="rgb(188,188,188)"/>
<circle cx="245.75" cy="210.27" r="0.35" fill="rgb(205,205,205)"/>
<circle cx="259.72" cy="200.58" r="0.35" fill="rgb(112,112,112)"/>
<circle cx="244.86" cy="216.29" r="0.35" fill="rgb(141,141,141)"/>
<circle cx="251.98" cy="204.92" r="0.35" fill="rgb(153,153,153)"/>
<circle cx="261.37" cy="213.71" r="0.35" fill="rgb(126,126,126)"/>
<circle cx="267.05" cy="207.58" r="0.35" fill="rgb(134,134,134)"/>
<circle cx="242.39" cy="217.01" r="0.35" fill="rgb(209,209,209)"/>
<circle cx="250.39" cy="220.24" r="0.35" fill="rgb(146,146,146)"/>
<circle cx="242.52" cy="221.25" r="0.35" fill="rgb(219,219,219)"/>
<circle cx="257.47" cy="201.30" r="0.35" fill="rgb(132,132,132)"/>
<circle cx="270.16" cy="197.58" r="0.35" fill="rgb(186,186,186)"/>
<circle cx="247.49" cy="218.69" r="0.35" fill="rgb(108,108,108)"/>
<circle cx="260.48" cy="197.91" r="0.35" fill="rgb(203,203,203)"/>
<circle cx="272.22" cy="198.96" r="0.35" fill="rgb(212,212,212)"/>
<circle cx="268.58" cy="205.25" r="0.35" fill="rgb(141,141,141)"/>
<circle cx="267.42" cy="199.11" r="0.35" fill="rgb(125,125,125)"/>
<circle cx="266.97" cy="196.85" r="0.35" fill="rgb(178,178,178)"/>
<circle cx="262.01" cy="198.57" r="0.35" fill="rgb(152,152,152)"/>
<circle cx="260.87" cy="215.06" r="0.35" fill="rgb(162,162,162)"/>
<circle cx="268.48" cy="196.23" r="0.35" fill="rgb(199,199,199)"/>
<circle cx="246.46" cy="214.06" r="0.35" fill="rgb(108,108,108)"/>
<circle cx="264.46" cy="212.34" r="0.35" fill="rgb(182,182,182)"/>
<circle cx="268.14" cy="206.64" r="0.35" fill="rgb(152,152,152)"/>
<circle cx="260.85" cy="214.17" r="0.35" fill="rgb(127,127,127)"/>
<circle cx="245.83" cy="211.19" r="0.35" fill="rgb(180,180,180)"/>
<circle cx="268.59" cy="200.05" r="0.35" fill="rgb(127,127,127)"/>
<circle cx="248.23" cy="209.12" r="0.35" fill="rgb(146,146,146)"/>
<circle cx="256.66" cy="217.07" r="0.35" fill="rgb(124,124,124)"/>
<circle cx="256.49" cy="202.04" r="0.35" fill="rgb(127,127,127)"/>
<circle cx="270.82" cy="201.18" r="0.35" fill="rgb(174,174,174)"/>
<circle cx="251.24" cy="218.92" r="0.35" fill="rgb(107,107,107)"/>
<circle cx="245.43" cy="212.09" r="0.35" fill="rgb(174,174,174)"/>
<circle cx="265.71" cy="208.36" r="0.35" fill="rgb(105,105,105)"/>
<circle cx="248.47" cy="221.89" r="0.35" fill="rgb(190,190,190)"/>
<circle cx="256.99" cy="217.26" r="0.35" fill="rgb(140,140,140)"/>
<circle cx="256.48" cy="219.43" r="0.35" fill="rgb(215,215,215)"/>
<circle cx="252.77" cy="220.32" r="0.35" fill="rgb(176,176,176)"/>
<circle cx="261.95" cy="198.43" r="0.35" fill="rgb(158,158,158)"/>
<circle cx="251.64" cy="221.89" r="0.35" fill="rgb(219,219,219)"/>
<circle cx="251.73" cy="205.89" r="0.35" fill="rgb(126,126,126)"/>
<circle cx="268.48" cy="199.87" r="0.35" fill="rgb(127,127,127)"/>
<circle cx="246.98" cy="222.67" r="0.35" fill="rgb(210,210,210)"/>
<circle cx="248.44" cy="222.29" r="0.35" fill="rgb(203,203,203)"/>
<circle cx="244.77" cy="222.31" r="0.35" fill="rgb(209,209,209)"/>
<circle cx="268.39" cy="200.38" r="0.35" fill="rgb(120,120,120)"/>
<circle cx="245.49" cy="211.99" r="0.35" fill="rgb(174,174,174)"/>
<circle cx="271.92" cy="202.10" r="0.35" fill="rgb(211,211,211)"/>
<circle cx="251.58" cy="220.92" r="0.35" fill="rgb(182,182,182)"/>
<circle cx="268.50" cy="206.84" r="0.35" fill="rgb(169,169,169)"/>
<circle cx="245.15" cy="218.37" r="0.35" fill="rgb(140,140,140)"/>
<circle cx="271.46" cy="203.55" r="0.35" fill="rgb(213,213,213)"/>
<circle cx="257.20" cy="200.59" r="0.35" fill="rgb(167,167,167)"/>
<circle cx="266.74" cy="210.92" r="0.35" fill="rgb(216,216,216)"/>
<circle cx="265.81" cy="199.14" r="0.35" fill="rgb(113,113,113)"/>
<circle cx="243.45" cy="222.08" r="0.35" fill="rgb(217,217,217)"/>
<circle cx="264.53" cy="199.70" r="0.35" fill="rgb(95,95,95)"/>
<circle cx="264.73" cy="197.78" r="0.35" fill="rgb(154,154,154)"/>
<circle cx="258.92" cy="199.22" r="0.35" fill="rgb(182,182,182)"/>
<circle cx="255.83" cy="202.68" r="0.35" fill="rgb(120,120,120)"/>
<circle cx="250.20" cy="219.80" r="0.35" fill="rgb(130,130,130)"/>
<circle cx="259.46" cy="198.35" r="0.35" fill="rgb(205,205,205)"/>
<circle cx="263.26" cy="211.86" r="0.35" fill="rgb(124,124,124)"/>
<circle cx="244.61" cy="218.96" r="0.35" fill="rgb(156,156,156)"/>
<circle cx="268.90" cy="205.35" r="0.35" fill="rgb(154,154,154)"/>
<circle cx="251.37" cy="206.00" r="0.35" fill="rgb(134,134,134)"/>
<circle cx="272.16" cy="199.04" r="0.35" fill="rgb(210,210,210)"/>
<circle cx="253.18" cy="203.27" r="0.35" fill="rgb(176,176,176)"/>
<circle cx="259.37" cy="201.28" r="0.35" fill="rgb(91,91,91)"/>
<circle cx="246.43" cy="213.91" r="0.35" fill="rgb(111,111,111)"/>
<circle cx="244.94" cy="212.99" r="0.35" fill="rgb(174,174,174)"/>
<circle cx="248.95" cy="220.34" r="0.35" fill="rgb(143,143,143)"/>
<circle cx="247.71" cy="221.55" r="0.35" fill="rgb(178,178,178)"/>
<circle cx="246.22" cy="221.74" r="0.35" fill="rgb(186,186,186)"/>
<circle cx="270.07" cy="199.52" r="0.35" fill="rgb(161,161,161)"/>
<circle cx="244.42" cy="220.74" r="0.35" fill="rgb(182,182,182)"/>
<circle cx="254.11" cy="203.63" r="0.35" fill="rgb(132,132,132)"/>
<circle cx="245.22" cy="222.02" r="0.35" fill="rgb(199,199,199)"/>
<circle cx="247.03" cy="219.22" r="0.35" fill="rgb(123,123,123)"/>
<circle cx="267.15" cy="206.19" r="0.35" fill="rgb(109,109,109)"/>
<circle cx="269.94" cy="203.20" r="0.35" fill="rgb(160,160,160)"/>
<circle cx="244.57" cy="219.42" r="0.35" fill="rgb(161,161,161)"/>
<circle cx="248.09" cy="211.58" r="0.35" fill="rgb(91,91,91)"/>
<circle cx="252.47" cy="205.82" r="0.35" fill="rgb(103,103,103)"/>
<circle cx="243.16" cy="220.47" r="0.35" fill="rgb(198,198,198)"/>
<circle cx="247.12" cy="217.63" r="0.35" fill="rgb(96,96,96)"/>
<circle cx="267.39" cy="197.83" r="0.35" fill="rgb(153,153,153)"/>
<circle cx="260.86" cy="200.00" r="0.35" fill="rgb(115,115,115)"/>
<circle cx="250.42" cy="204.55" r="0.35" fill="rgb(219,219,219)"/>
<circle cx="266.66" cy="210.56" r="0.35" fill="rgb(202,202,202)"/>
<circle cx="243.06" cy="221.81" r="0.35" fill="rgb(218,218,218)"/>
<circle cx="267.00" cy="195.59" r="0.35" fill="rgb(216,216,216)"/>
<circle cx="256.01" cy="202.53" r="0.35" fill="rgb(120,120,120)"/>
<circle cx="272.30" cy="200.44" r="0.35" fill="rgb(213,213,213)"/>
<circle cx="253.38" cy="203.79" r="0.35" fill="rgb(150,150,150)"/>
<circle cx="263.48" cy="199.07" r="0.35" fill="rgb(119,119,119)"/>
<circle cx="258.03" cy="200.80" r="0.35" fill="rgb(139,139,139)"/>
<circle cx="246.40" cy="218.31" r="0.35" fill="rgb(116,116,116)"/>
<circle cx="265.81" cy="211.83" r="0.35" fill="rgb(212,212,212)"/>
<circle cx="245.57" cy="218.82" r="0.35" fill="rgb(137,137,137)"/>
<circle cx="269.64" cy="200.54" r="0.35" fill="rgb(145,145,145)"/>
<circle cx="266.37" cy="208.15" r="0.35" fill="rgb(123,123,123)"/>
<circle cx="246.47" cy="208.99" r="0.35" fill="rgb(214,214,214)"/>
<circle cx="268.53" cy="208.48" r="0.35" fill="rgb(210,210,210)"/>
<circle cx="270.77" cy="204.22" r="0.35" fill="rgb(199,199,199)"/>
<circle cx="245.38" cy="212.29" r="0.35" fill="rgb(172,172,172)"/>
<circle cx="262.49" cy="198.45" r="0.35" fill="rgb(151,151,151)"/>
<circle cx="243.70" cy="216.22" r="0.35" fill="rgb(175,175,175)"/>
<circle cx="271.44" cy="203.29" r="0.35" fill="rgb(209,209,209)"/>
<circle cx="243.51" cy="213.24" r="0.35" fill="rgb(219,219,219)"/>
<circle cx="256.62" cy="201.26" r="0.35" fill="rgb(155,155,155)"/>
<circle cx="268.43" cy="199.11" r="0.35" fill="rgb(137,137,137)"/>
<circle cx="252.50" cy="220.45" r="0.35" fill="rgb(177,177,177)"/>
<circle cx="246.16" cy="222.15" r="0.35" fill="rgb(197,197,197)"/>
<circle cx="255.21" cy="211.32" r="0.4" fill="rgb(76,76,76)"/>
<circle cx="247.99" cy="221.94" r="0.4" fill="rgb(172,172,172)"/>
<circle cx="244.91" cy="222.02" r="0.4" fill="rgb(197,197,197)"/>
<circle cx="253.96" cy="213.52" r="0.4" fill="rgb(96,96,96)"/>
<circle cx="254.73" cy="210.55" r="0.4" fill="rgb(72,72,72)"/>
<circle cx="251.88" cy="215.95" r="0.4" fill="rgb(126,126,126)"/>
<circle cx="254.53" cy="212.16" r="0.4" fill="rgb(84,84,84)"/>
<circle cx="256.88" cy="209.61" r="0.4" fill="rgb(50,50,50)"/>
<circle cx="253.41" cy="215.44" r="0.4" fill="rgb(103,103,103)"/>
<circle cx="251.00" cy="218.67" r="0.4" fill="rgb(138,138,138)"/>
<circle cx="253.44" cy="217.51" r="0.4" fill="rgb(121,121,121)"/>
<circle cx="254.74" cy="212.92" r="0.4" fill="rgb(86,86,86)"/>
<circle cx="251.26" cy="216.74" r="0.4" fill="rgb(145,145,145)"/>
<circle cx="252.68" cy="214.90" r="0.4" fill="rgb(110,110,110)"/>
<circle cx="249.12" cy="217.75" r="0.4" fill="rgb(146,146,146)"/>
<circle cx="247.76" cy="218.92" r="0.4" fill="rgb(146,146,146)"/>
<circle cx="249.00" cy="221.49" r="0.4" fill="rgb(160,160,160)"/>
<circle cx="255.71" cy="209.61" r="0.4" fill="rgb(56,56,56)"/>
<circle cx="256.16" cy="213.10" r="0.4" fill="rgb(85,85,85)"/>
<circle cx="254.80" cy="208.62" r="0.4" fill="rgb(51,51,51)"/>
<circle cx="256.03" cy="212.46" r="0.4" fill="rgb(71,71,71)"/>
<circle cx="250.37" cy="214.77" r="0.4" fill="rgb(126,126,126)"/>
<circle cx="254.94" cy="212.40" r="0.4" fill="rgb(76,76,76)"/>
<circle cx="258.00" cy="208.75" r="0.4" fill="rgb(57,57,57)"/>
<circle cx="251.12" cy="219.15" r="0.4" fill="rgb(157,157,157)"/>
<circle cx="247.25" cy="219.84" r="0.4" fill="rgb(161,161,161)"/>
<circle cx="252.20" cy="215.91" r="0.4" fill="rgb(117,117,117)"/>
<circle cx="255.48" cy="212.62" r="0.4" fill="rgb(84,84,84)"/>
<circle cx="248.15" cy="217.73" r="0.4" fill="rgb(162,162,162)"/>
<circle cx="249.10" cy="220.29" r="0.4" fill="rgb(156,156,156)"/>
<circle cx="252.61" cy="214.04" r="0.4" fill="rgb(115,115,115)"/>
<circle cx="252.60" cy="210.84" r="0.4" fill="rgb(89,89,89)"/>
<circle cx="254.90" cy="212.07" r="0.4" fill="rgb(82,82,82)"/>
<circle cx="254.43" cy="214.44" r="0.4" fill="rgb(89,89,89)"/>
<circle cx="246.60" cy="221.35" r="0.4" fill="rgb(191,191,191)"/>
<circle cx="261.49" cy="201.13" r="0.45" fill="rgb(24,24,24)"/>
<circle cx="263.18" cy="200.37" r="0.45" fill="rgb(51,51,51)"/>
<circle cx="249.10" cy="209.91" r="0.45" fill="rgb(38,38,38)"/>
<circle cx="259.39" cy="201.52" r="0.45" fill="rgb(61,61,61)"/>
<circle cx="249.74" cy="218.23" r="0.45" fill="rgb(44,44,44)"/>
<circle cx="257.03" cy="215.23" r="0.45" fill="rgb(47,47,47)"/>
<circle cx="267.51" cy="203.74" r="0.45" fill="rgb(18,18,18)"/>
<circle cx="266.09" cy="202.65" r="0.45" fill="rgb(65,65,65)"/>
<circle cx="254.94" cy="216.28" r="0.45" fill="rgb(11,11,11)"/>
<circle cx="267.21" cy="202.43" r="0.45" fill="rgb(48,48,48)"/>
<circle cx="250.86" cy="208.08" r="0.45" fill="rgb(13,13,13)"/>
<circle cx="247.96" cy="213.60" r="0.45" fill="rgb(59,59,59)"/>
<circle cx="258.16" cy="201.94" r="0.45" fill="rgb(13,13,13)"/>
<circle cx="261.22" cy="200.50" r="0.45" fill="rgb(66,66,66)"/>
<circle cx="265.91" cy="205.68" r="0.45" fill="rgb(16,16,16)"/>
<circle cx="267.43" cy="201.98" r="0.45" fill="rgb(58,58,58)"/>
<circle cx="248.18" cy="211.66" r="0.45" fill="rgb(47,47,47)"/>
<circle cx="258.19" cy="214.35" r="0.45" fill="rgb(15,15,15)"/>
<circle cx="254.50" cy="205.22" r="0.45" fill="rgb(29,29,29)"/>
<circle cx="251.16" cy="217.15" r="0.45" fill="rgb(25,25,25)"/>
<circle cx="258.60" cy="214.75" r="0.45" fill="rgb(32,32,32)"/>
<circle cx="256.15" cy="216.59" r="0.45" fill="rgb(40,40,40)"/>
<circle cx="260.06" cy="201.31" r="0.45" fill="rgb(11,11,11)"/>
<circle cx="251.17" cy="217.77" r="0.45" fill="rgb(56,56,56)"/>
<circle cx="254.58" cy="217.09" r="0.45" fill="rgb(42,42,42)"/>
<circle cx="262.64" cy="211.47" r="0.45" fill="rgb(15,15,15)"/>
<circle cx="258.06" cy="202.81" r="0.45" fill="rgb(10,10,10)"/>
<circle cx="263.32" cy="210.61" r="0.45" fill="rgb(68,68,68)"/>
<circle cx="266.41" cy="201.52" r="0.45" fill="rgb(39,39,39)"/>
<circle cx="256.74" cy="203.60" r="0.45" fill="rgb(39,39,39)"/>
<circle cx="254.50" cy="217.27" r="0.45" fill="rgb(25,25,25)"/>
<circle cx="264.36" cy="200.88" r="0.45" fill="rgb(22,22,22)"/>
<circle cx="251.23" cy="207.99" r="0.45" fill="rgb(16,16,16)"/>
<circle cx="249.37" cy="211.24" r="0.45" fill="rgb(57,57,57)"/>
<circle cx="250.81" cy="208.06" r="0.45" fill="rgb(47,47,47)"/>
<circle cx="254.21" cy="216.90" r="0.45" fill="rgb(33,33,33)"/>
<circle cx="261.81" cy="201.36" r="0.45" fill="rgb(63,63,63)"/>
<circle cx="266.24" cy="202.47" r="0.45" fill="rgb(25,25,25)"/>
<circle cx="262.73" cy="200.62" r="0.45" fill="rgb(32,32,32)"/>
<circle cx="261.61" cy="201.22" r="0.45" fill="rgb(37,37,37)"/>
<circle cx="247.16" cy="216.41" r="0.45" fill="rgb(55,55,55)"/>
<circle cx="249.27" cy="210.83" r="0.45" fill="rgb(29,29,29)"/>
<circle cx="265.52" cy="207.93" r="0.45" fill="rgb(49,49,49)"/>
<circle cx="253.68" cy="205.96" r="0.45" fill="rgb(36,36,36)"/>
<circle cx="255.27" cy="204.19" r="0.45" fill="rgb(17,17,17)"/>
<circle cx="248.54" cy="218.28" r="0.45" fill="rgb(24,24,24)"/>
<circle cx="263.32" cy="209.95" r="0.45" fill="rgb(52,52,52)"/>
<circle cx="259.40" cy="202.14" r="0.45" fill="rgb(19,19,19)"/>
<circle cx="260.51" cy="212.81" r="0.45" fill="rgb(41,41,41)"/>
<circle cx="264.60" cy="208.34" r="0.45" fill="rgb(21,21,21)"/>
<circle cx="266.07" cy="200.55" r="0.45" fill="rgb(16,16,16)"/>
<circle cx="264.74" cy="201.31" r="0.45" fill="rgb(33,33,33)"/>
<circle cx="266.42" cy="200.62" r="0.45" fill="rgb(53,53,53)"/>
<circle cx="250.50" cy="217.42" r="0.45" fill="rgb(48,48,48)"/>
<circle cx="265.91" cy="205.67" r="0.45" fill="rgb(33,33,33)"/>
<circle cx="266.65" cy="202.51" r="0.45" fill="rgb(57,57,57)"/>
<circle cx="250.94" cy="208.32" r="0.45" fill="rgb(47,47,47)"/>
<circle cx="249.57" cy="217.14" r="0.45" fill="rgb(46,46,46)"/>
<circle cx="251.25" cy="218.18" r="0.45" fill="rgb(64,64,64)"/>
<circle cx="250.24" cy="218.01" r="0.45" fill="rgb(54,54,54)"/>
<circle cx="251.03" cy="217.47" r="0.45" fill="rgb(53,53,53)"/>
<circle cx="261.84" cy="200.47" r="0.45" fill="rgb(52,52,52)"/>
<circle cx="260.15" cy="201.20" r="0.45" fill="rgb(48,48,48)"/>
<circle cx="249.64" cy="217.49" r="0.45" fill="rgb(47,47,47)"/>
<circle cx="266.42" cy="205.10" r="0.45" fill="rgb(56,56,56)"/>
<circle cx="251.79" cy="207.21" r="0.45" fill="rgb(25,25,25)"/>
<circle cx="250.66" cy="217.83" r="0.45" fill="rgb(47,47,47)"/>
<circle cx="251.09" cy="218.11" r="0.45" fill="rgb(65,65,65)"/>
<circle cx="264.11" cy="209.53" r="0.45" fill="rgb(56,56,56)"/>
<circle cx="252.33" cy="217.63" r="0.45" fill="rgb(68,68,68)"/>
<circle cx="266.93" cy="202.48" r="0.45" fill="rgb(19,19,19)"/>
<circle cx="255.69" cy="203.47" r="0.45" fill="rgb(41,41,41)"/>
<circle cx="266.63" cy="205.14" r="0.45" fill="rgb(42,42,42)"/>
<circle cx="252.11" cy="207.03" r="0.45" fill="rgb(48,48,48)"/>
<circle cx="258.67" cy="202.08" r="0.45" fill="rgb(34,34,34)"/>
<circle cx="264.41" cy="201.02" r="0.45" fill="rgb(51,51,51)"/>
<circle cx="251.88" cy="218.09" r="0.45" fill="rgb(17,17,17)"/>
<circle cx="265.75" cy="201.27" r="0.45" fill="rgb(13,13,13)"/>
<circle cx="259.02" cy="214.10" r="0.45" fill="rgb(10,10,10)"/>
<circle cx="250.93" cy="217.76" r="0.45" fill="rgb(51,51,51)"/>
<circle cx="254.48" cy="216.62" r="0.45" fill="rgb(23,23,23)"/>
<circle cx="253.14" cy="205.52" r="0.45" fill="rgb(41,41,41)"/>
<circle cx="262.46" cy="211.57" r="0.45" fill="rgb(33,33,33)"/>
<circle cx="262.19" cy="210.96" r="0.45" fill="rgb(56,56,56)"/>
<circle cx="257.50" cy="202.62" r="0.45" fill="rgb(38,38,38)"/>
<circle cx="247.97" cy="214.68" r="0.45" fill="rgb(67,67,67)"/>
<circle cx="254.23" cy="217.17" r="0.45" fill="rgb(59,59,59)"/>
<circle cx="257.89" cy="202.57" r="0.45" fill="rgb(27,27,27)"/>
<circle cx="248.15" cy="215.08" r="0.45" fill="rgb(60,60,60)"/>
<circle cx="254.02" cy="217.50" r="0.45" fill="rgb(26,26,26)"/>
<circle cx="253.18" cy="217.09" r="0.45" fill="rgb(35,35,35)"/>
<circle cx="263.21" cy="209.63" r="0.45" fill="rgb(53,53,53)"/>
<circle cx="258.57" cy="214.25" r="0.45" fill="rgb(28,28,28)"/>
<circle cx="248.67" cy="217.33" r="0.45" fill="rgb(48,48,48)"/>
<circle cx="249.69" cy="210.16" r="0.45" fill="rgb(65,65,65)"/>
<circle cx="259.94" cy="202.01" r="0.45" fill="rgb(59,59,59)"/>
<circle cx="263.25" cy="200.14" r="0.45" fill="rgb(18,18,18)"/>
<circle cx="258.85" cy="201.86" r="0.45" fill="rgb(10,10,10)"/>
<circle cx="267.30" cy="201.09" r="0.45" fill="rgb(49,49,49)"/>
<circle cx="260.25" cy="212.77" r="0.45" fill="rgb(18,18,18)"/>
<circle cx="261.61" cy="212.37" r="0.45" fill="rgb(30,30,30)"/>
<circle cx="265.70" cy="207.77" r="0.45" fill="rgb(57,57,57)"/>
<circle cx="265.07" cy="208.66" r="0.45" fill="rgb(46,46,46)"/>
<circle cx="255.73" cy="203.75" r="0.45" fill="rgb(63,63,63)"/>
<circle cx="256.12" cy="203.28" r="0.45" fill="rgb(21,21,21)"/>
<circle cx="250.88" cy="208.35" r="0.45" fill="rgb(54,54,54)"/>
<circle cx="249.47" cy="218.47" r="0.45" fill="rgb(43,43,43)"/>
<circle cx="259.52" cy="213.52" r="0.45" fill="rgb(18,18,18)"/>
<circle cx="248.92" cy="216.54" r="0.45" fill="rgb(38,38,38)"/>
<circle cx="265.40" cy="207.42" r="0.45" fill="rgb(39,39,39)"/>
<circle cx="246.91" cy="216.25" r="0.45" fill="rgb(10,10,10)"/>
<circle cx="259.36" cy="201.80" r="0.45" fill="rgb(43,43,43)"/>
<circle cx="249.28" cy="209.89" r="0.45" fill="rgb(32,32,32)"/>
<circle cx="250.30" cy="218.60" r="0.45" fill="rgb(14,14,14)"/>
<circle cx="248.55" cy="211.43" r="0.45" fill="rgb(11,11,11)"/>
<circle cx="247.76" cy="212.90" r="0.45" fill="rgb(65,65,65)"/>
<circle cx="255.51" cy="216.95" r="0.45" fill="rgb(40,40,40)"/>
<circle cx="247.80" cy="217.92" r="0.45" fill="rgb(12,12,12)"/>
<circle cx="252.06" cy="206.94" r="0.45" fill="rgb(30,30,30)"/>
<circle cx="260.51" cy="201.42" r="0.45" fill="rgb(38,38,38)"/>
<ellipse cx="257.2" cy="209.2" rx="11.9" ry="5.0" fill="url(#bg2)" filter="url(#bl)" transform="rotate(-40.5 257.2 209.2)"/>
<circle cx="312.41" cy="213.62" r="0.35" fill="rgb(171,171,171)"/>
<circle cx="314.39" cy="226.87" r="0.35" fill="rgb(128,128,128)"/>
<circle cx="310.03" cy="225.25" r="0.35" fill="rgb(159,159,159)"/>
<circle cx="321.38" cy="225.01" r="0.35" fill="rgb(203,203,203)"/>
<circle cx="315.38" cy="228.70" r="0.35" fill="rgb(203,203,203)"/>
<circle cx="321.91" cy="223.40" r="0.35" fill="rgb(169,169,169)"/>
<circle cx="322.12" cy="209.32" r="0.35" fill="rgb(169,169,169)"/>
<circle cx="313.17" cy="212.33" r="0.35" fill="rgb(186,186,186)"/>
<circle cx="319.71" cy="225.04" r="0.35" fill="rgb(147,147,147)"/>
<circle cx="309.91" cy="223.58" r="0.35" fill="rgb(142,142,142)"/>
<circle cx="312.84" cy="212.75" r="0.35" fill="rgb(184,184,184)"/>
<circle cx="312.16" cy="216.78" r="0.35" fill="rgb(91,91,91)"/>
<circle cx="309.19" cy="226.62" r="0.35" fill="rgb(209,209,209)"/>
<circle cx="319.92" cy="223.43" r="0.35" fill="rgb(94,94,94)"/>
<circle cx="322.59" cy="218.71" r="0.35" fill="rgb(77,77,77)"/>
<circle cx="308.14" cy="223.42" r="0.35" fill="rgb(212,212,212)"/>
<circle cx="313.03" cy="212.47" r="0.35" fill="rgb(186,186,186)"/>
<circle cx="308.16" cy="223.22" r="0.35" fill="rgb(211,211,211)"/>
<circle cx="308.83" cy="222.02" r="0.35" fill="rgb(182,182,182)"/>
<circle cx="308.73" cy="223.82" r="0.35" fill="rgb(190,190,190)"/>
<circle cx="324.36" cy="220.21" r="0.35" fill="rgb(189,189,189)"/>
<circle cx="312.78" cy="228.36" r="0.35" fill="rgb(187,187,187)"/>
<circle cx="325.86" cy="213.36" r="0.35" fill="rgb(197,197,197)"/>
<circle cx="323.27" cy="211.90" r="0.35" fill="rgb(123,123,123)"/>
<circle cx="319.55" cy="208.33" r="0.35" fill="rgb(198,198,198)"/>
<circle cx="317.30" cy="227.58" r="0.35" fill="rgb(186,186,186)"/>
<circle cx="312.72" cy="212.32" r="0.35" fill="rgb(203,203,203)"/>
<circle cx="322.56" cy="222.76" r="0.35" fill="rgb(176,176,176)"/>
<circle cx="314.85" cy="227.22" r="0.35" fill="rgb(143,143,143)"/>
<circle cx="314.44" cy="227.31" r="0.35" fill="rgb(145,145,145)"/>
<circle cx="320.46" cy="208.61" r="0.35" fill="rgb(184,184,184)"/>
<circle cx="311.17" cy="223.54" r="0.35" fill="rgb(96,96,96)"/>
<circle cx="323.48" cy="215.52" r="0.35" fill="rgb(91,91,91)"/>
<circle cx="308.72" cy="225.09" r="0.35" fill="rgb(202,202,202)"/>
<circle cx="313.05" cy="229.11" r="0.35" fill="rgb(212,212,212)"/>
<circle cx="316.58" cy="225.27" r="0.35" fill="rgb(81,81,81)"/>
<circle cx="320.59" cy="208.76" r="0.35" fill="rgb(179,179,179)"/>
<circle cx="311.57" cy="228.94" r="0.35" fill="rgb(218,218,218)"/>
<circle cx="324.97" cy="213.93" r="0.35" fill="rgb(158,158,158)"/>
<circle cx="324.29" cy="220.18" r="0.35" fill="rgb(185,185,185)"/>
<circle cx="322.64" cy="211.43" r="0.35" fill="rgb(118,118,118)"/>
<circle cx="311.74" cy="218.56" r="0.35" fill="rgb(76,76,76)"/>
<circle cx="321.02" cy="210.73" r="0.35" fill="rgb(112,112,112)"/>
<circle cx="317.15" cy="211.43" r="0.35" fill="rgb(104,104,104)"/>
<circle cx="322.62" cy="211.59" r="0.35" fill="rgb(113,113,113)"/>
<circle cx="323.44" cy="222.05" r="0.35" fill="rgb(193,193,193)"/>
<circle cx="325.11" cy="218.64" r="0.35" fill="rgb(194,194,194)"/>
<circle cx="313.57" cy="214.55" r="0.35" fill="rgb(94,94,94)"/>
<circle cx="316.37" cy="209.65" r="0.35" fill="rgb(192,192,192)"/>
<circle cx="325.63" cy="212.50" r="0.35" fill="rgb(194,194,194)"/>
<circle cx="310.06" cy="217.01" r="0.35" fill="rgb(183,183,183)"/>
<circle cx="320.20" cy="209.18" r="0.35" fill="rgb(164,164,164)"/>
<circle cx="321.25" cy="210.09" r="0.35" fill="rgb(135,135,135)"/>
<circle cx="323.86" cy="209.54" r="0.35" fill="rgb(192,192,192)"/>
<circle cx="311.25" cy="220.02" r="0.35" fill="rgb(81,81,81)"/>
<circle cx="325.76" cy="212.12" r="0.35" fill="rgb(202,202,202)"/>
<circle cx="311.38" cy="216.09" r="0.35" fill="rgb(144,144,144)"/>
<circle cx="316.77" cy="211.21" r="0.35" fill="rgb(121,121,121)"/>
<circle cx="324.65" cy="211.83" r="0.35" fill="rgb(167,167,167)"/>
<circle cx="309.83" cy="224.25" r="0.35" fill="rgb(152,152,152)"/>
<circle cx="309.79" cy="218.98" r="0.35" fill="rgb(161,161,161)"/>
<circle cx="314.14" cy="213.28" r="0.35" fill="rgb(117,117,117)"/>
<circle cx="309.62" cy="220.75" r="0.35" fill="rgb(151,151,151)"/>
<circle cx="314.75" cy="228.29" r="0.35" fill="rgb(183,183,183)"/>
<circle cx="313.28" cy="213.12" r="0.35" fill="rgb(154,154,154)"/>
<circle cx="312.49" cy="212.24" r="0.35" fill="rgb(214,214,214)"/>
<circle cx="321.10" cy="224.53" r="0.35" fill="rgb(176,176,176)"/>
<circle cx="321.08" cy="211.19" r="0.35" fill="rgb(97,97,97)"/>
<circle cx="314.89" cy="210.66" r="0.35" fill="rgb(191,191,191)"/>
<circle cx="309.66" cy="222.74" r="0.35" fill="rgb(147,147,147)"/>
<circle cx="314.94" cy="209.93" r="0.35" fill="rgb(217,217,217)"/>
<circle cx="320.38" cy="225.34" r="0.35" fill="rgb(180,180,180)"/>
<circle cx="318.05" cy="209.68" r="0.35" fill="rgb(160,160,160)"/>
<circle cx="310.10" cy="218.52" r="0.35" fill="rgb(153,153,153)"/>
<circle cx="318.52" cy="209.02" r="0.35" fill="rgb(180,180,180)"/>
<circle cx="321.82" cy="224.48" r="0.35" fill="rgb(201,201,201)"/>
<circle cx="320.87" cy="221.73" r="0.35" fill="rgb(73,73,73)"/>
<circle cx="309.53" cy="223.83" r="0.35" fill="rgb(159,159,159)"/>
<circle cx="318.12" cy="208.59" r="0.35" fill="rgb(202,202,202)"/>
<circle cx="315.73" cy="212.58" r="0.35" fill="rgb(92,92,92)"/>
<circle cx="317.00" cy="209.07" r="0.35" fill="rgb(202,202,202)"/>
<circle cx="321.93" cy="223.62" r="0.35" fill="rgb(177,177,177)"/>
<circle cx="313.72" cy="211.25" r="0.35" fill="rgb(206,206,206)"/>
<circle cx="319.48" cy="208.58" r="0.35" fill="rgb(189,189,189)"/>
<circle cx="324.63" cy="213.25" r="0.35" fill="rgb(149,149,149)"/>
<circle cx="313.54" cy="212.26" r="0.35" fill="rgb(175,175,175)"/>
<circle cx="312.32" cy="215.19" r="0.35" fill="rgb(127,127,127)"/>
<circle cx="324.10" cy="221.73" r="0.35" fill="rgb(213,213,213)"/>
<circle cx="309.37" cy="218.96" r="0.35" fill="rgb(181,181,181)"/>
<circle cx="324.04" cy="219.75" r="0.35" fill="rgb(164,164,164)"/>
<circle cx="314.87" cy="219.40" r="0.4" fill="rgb(88,88,88)"/>
<circle cx="314.51" cy="224.28" r="0.4" fill="rgb(118,118,118)"/>
<circle cx="310.24" cy="227.92" r="0.4" fill="rgb(165,165,165)"/>
<circle cx="309.86" cy="227.11" r="0.4" fill="rgb(184,184,184)"/>
<circle cx="312.27" cy="223.16" r="0.4" fill="rgb(121,121,121)"/>
<circle cx="316.09" cy="221.93" r="0.4" fill="rgb(78,78,78)"/>
<circle cx="312.93" cy="221.91" r="0.4" fill="rgb(104,104,104)"/>
<circle cx="312.62" cy="224.17" r="0.4" fill="rgb(127,127,127)"/>
<circle cx="307.69" cy="229.31" r="0.4" fill="rgb(199,199,199)"/>
<circle cx="311.51" cy="224.58" r="0.4" fill="rgb(144,144,144)"/>
<circle cx="311.03" cy="225.77" r="0.4" fill="rgb(139,139,139)"/>
<circle cx="319.99" cy="219.35" r="0.4" fill="rgb(53,53,53)"/>
<circle cx="307.94" cy="227.71" r="0.4" fill="rgb(179,179,179)"/>
<circle cx="314.99" cy="220.21" r="0.4" fill="rgb(89,89,89)"/>
<circle cx="308.69" cy="226.60" r="0.4" fill="rgb(191,191,191)"/>
<circle cx="308.33" cy="228.89" r="0.4" fill="rgb(194,194,194)"/>
<circle cx="315.53" cy="220.99" r="0.4" fill="rgb(80,80,80)"/>
<circle cx="314.84" cy="218.32" r="0.4" fill="rgb(57,57,57)"/>
<circle cx="315.06" cy="222.60" r="0.4" fill="rgb(118,118,118)"/>
<circle cx="315.79" cy="218.59" r="0.4" fill="rgb(59,59,59)"/>
<circle cx="316.84" cy="219.56" r="0.4" fill="rgb(67,67,67)"/>
<circle cx="310.42" cy="222.49" r="0.4" fill="rgb(134,134,134)"/>
<circle cx="310.18" cy="226.21" r="0.4" fill="rgb(150,150,150)"/>
<circle cx="318.76" cy="219.52" r="0.4" fill="rgb(73,73,73)"/>
<circle cx="315.91" cy="221.01" r="0.4" fill="rgb(83,83,83)"/>
<circle cx="315.74" cy="220.95" r="0.4" fill="rgb(102,102,102)"/>
<circle cx="311.18" cy="227.80" r="0.4" fill="rgb(175,175,175)"/>
<circle cx="308.91" cy="223.63" r="0.4" fill="rgb(156,156,156)"/>
<circle cx="317.72" cy="220.41" r="0.4" fill="rgb(58,58,58)"/>
<circle cx="308.18" cy="227.61" r="0.4" fill="rgb(190,190,190)"/>
<circle cx="311.78" cy="224.24" r="0.4" fill="rgb(138,138,138)"/>
<circle cx="314.20" cy="222.42" r="0.4" fill="rgb(98,98,98)"/>
<circle cx="313.13" cy="224.20" r="0.4" fill="rgb(122,122,122)"/>
<circle cx="315.81" cy="219.86" r="0.4" fill="rgb(71,71,71)"/>
<circle cx="310.69" cy="226.29" r="0.4" fill="rgb(157,157,157)"/>
<circle cx="309.09" cy="230.53" r="0.4" fill="rgb(189,189,189)"/>
<circle cx="309.65" cy="227.25" r="0.4" fill="rgb(180,180,180)"/>
<circle cx="314.97" cy="224.51" r="0.4" fill="rgb(117,117,117)"/>
<circle cx="308.69" cy="226.55" r="0.4" fill="rgb(176,176,176)"/>
<circle cx="314.58" cy="221.05" r="0.4" fill="rgb(100,100,100)"/>
<circle cx="311.86" cy="225.65" r="0.4" fill="rgb(144,144,144)"/>
<circle cx="316.39" cy="217.86" r="0.4" fill="rgb(58,58,58)"/>
<circle cx="316.41" cy="219.45" r="0.4" fill="rgb(71,71,71)"/>
<circle cx="313.86" cy="223.48" r="0.4" fill="rgb(111,111,111)"/>
<circle cx="309.17" cy="227.84" r="0.4" fill="rgb(175,175,175)"/>
<circle cx="311.79" cy="225.62" r="0.4" fill="rgb(123,123,123)"/>
<circle cx="316.49" cy="219.65" r="0.4" fill="rgb(67,67,67)"/>
<circle cx="308.63" cy="227.30" r="0.4" fill="rgb(184,184,184)"/>
<circle cx="312.63" cy="224.27" r="0.4" fill="rgb(121,121,121)"/>
<circle cx="313.33" cy="222.93" r="0.4" fill="rgb(80,80,80)"/>
<circle cx="308.42" cy="228.77" r="0.4" fill="rgb(199,199,199)"/>
<circle cx="314.81" cy="221.33" r="0.4" fill="rgb(93,93,93)"/>
<circle cx="309.77" cy="228.80" r="0.4" fill="rgb(158,158,158)"/>
<circle cx="317.37" cy="217.81" r="0.4" fill="rgb(52,52,52)"/>
<circle cx="317.80" cy="219.99" r="0.4" fill="rgb(71,71,71)"/>
<circle cx="312.77" cy="225.01" r="0.4" fill="rgb(128,128,128)"/>
<circle cx="309.07" cy="229.35" r="0.4" fill="rgb(186,186,186)"/>
<circle cx="316.66" cy="221.50" r="0.4" fill="rgb(70,70,70)"/>
<circle cx="310.79" cy="226.36" r="0.4" fill="rgb(156,156,156)"/>
<circle cx="315.49" cy="218.68" r="0.4" fill="rgb(63,63,63)"/>
<circle cx="315.06" cy="222.70" r="0.4" fill="rgb(91,91,91)"/>
<circle cx="311.19" cy="224.71" r="0.4" fill="rgb(156,156,156)"/>
<circle cx="316.83" cy="221.28" r="0.4" fill="rgb(80,80,80)"/>
<circle cx="313.39" cy="222.45" r="0.4" fill="rgb(111,111,111)"/>
<circle cx="308.76" cy="228.66" r="0.4" fill="rgb(171,171,171)"/>
<circle cx="309.07" cy="227.59" r="0.4" fill="rgb(179,179,179)"/>
<circle cx="306.82" cy="228.35" r="0.4" fill="rgb(186,186,186)"/>
<circle cx="315.49" cy="223.03" r="0.4" fill="rgb(89,89,89)"/>
<circle cx="314.32" cy="223.18" r="0.4" fill="rgb(105,105,105)"/>
<circle cx="312.94" cy="224.78" r="0.4" fill="rgb(139,139,139)"/>
<circle cx="314.54" cy="225.34" r="0.45" fill="rgb(17,17,17)"/>
<circle cx="312.07" cy="217.17" r="0.45" fill="rgb(61,61,61)"/>
<circle cx="319.07" cy="223.85" r="0.45" fill="rgb(32,32,32)"/>
<circle cx="313.53" cy="215.95" r="0.45" fill="rgb(62,62,62)"/>
<circle cx="320.11" cy="211.71" r="0.45" fill="rgb(40,40,40)"/>
<circle cx="312.24" cy="224.19" r="0.45" fill="rgb(11,11,11)"/>
<circle cx="320.37" cy="212.13" r="0.45" fill="rgb(20,20,20)"/>
<circle cx="322.74" cy="215.26" r="0.45" fill="rgb(59,59,59)"/>
<circle cx="321.76" cy="213.25" r="0.45" fill="rgb(51,51,51)"/>
<circle cx="321.97" cy="218.89" r="0.45" fill="rgb(45,45,45)"/>
<circle cx="311.56" cy="222.83" r="0.45" fill="rgb(52,52,52)"/>
<circle cx="323.38" cy="214.90" r="0.45" fill="rgb(53,53,53)"/>
<circle cx="322.04" cy="213.58" r="0.45" fill="rgb(39,39,39)"/>
<circle cx="313.11" cy="224.52" r="0.45" fill="rgb(17,17,17)"/>
<circle cx="316.01" cy="224.79" r="0.45" fill="rgb(45,45,45)"/>
<circle cx="316.87" cy="212.77" r="0.45" fill="rgb(44,44,44)"/>
<circle cx="313.34" cy="216.08" r="0.45" fill="rgb(59,59,59)"/>
<circle cx="319.53" cy="211.80" r="0.45" fill="rgb(35,35,35)"/>
<circle cx="316.06" cy="212.83" r="0.45" fill="rgb(33,33,33)"/>
<circle cx="319.83" cy="211.33" r="0.45" fill="rgb(30,30,30)"/>
<circle cx="321.34" cy="220.76" r="0.45" fill="rgb(36,36,36)"/>
<circle cx="321.14" cy="211.59" r="0.45" fill="rgb(64,64,64)"/>
<circle cx="315.07" cy="213.21" r="0.45" fill="rgb(13,13,13)"/>
<circle cx="312.17" cy="224.93" r="0.45" fill="rgb(66,66,66)"/>
<circle cx="321.18" cy="221.15" r="0.45" fill="rgb(47,47,47)"/>
<circle cx="317.44" cy="224.71" r="0.45" fill="rgb(14,14,14)"/>
<circle cx="314.97" cy="225.35" r="0.45" fill="rgb(11,11,11)"/>
<circle cx="323.48" cy="216.40" r="0.45" fill="rgb(56,56,56)"/>
<circle cx="319.61" cy="211.50" r="0.45" fill="rgb(58,58,58)"/>
<circle cx="317.73" cy="211.56" r="0.45" fill="rgb(12,12,12)"/>
<circle cx="311.65" cy="220.27" r="0.45" fill="rgb(50,50,50)"/>
<circle cx="320.58" cy="222.13" r="0.45" fill="rgb(65,65,65)"/>
<circle cx="311.62" cy="221.05" r="0.45" fill="rgb(41,41,41)"/>
<circle cx="314.77" cy="225.89" r="0.45" fill="rgb(27,27,27)"/>
<circle cx="319.59" cy="223.31" r="0.45" fill="rgb(17,17,17)"/>
<circle cx="310.97" cy="222.50" r="0.45" fill="rgb(40,40,40)"/>
<circle cx="320.68" cy="221.90" r="0.45" fill="rgb(42,42,42)"/>
<circle cx="322.57" cy="217.04" r="0.45" fill="rgb(17,17,17)"/>
<circle cx="319.88" cy="222.74" r="0.45" fill="rgb(27,27,27)"/>
<circle cx="321.08" cy="220.77" r="0.45" fill="rgb(42,42,42)"/>
<circle cx="316.04" cy="212.74" r="0.45" fill="rgb(44,44,44)"/>
<circle cx="311.77" cy="219.90" r="0.45" fill="rgb(52,52,52)"/>
<circle cx="314.04" cy="225.31" r="0.45" fill="rgb(46,46,46)"/>
<circle cx="313.94" cy="224.96" r="0.45" fill="rgb(24,24,24)"/>
<circle cx="321.92" cy="220.06" r="0.45" fill="rgb(32,32,32)"/>
<circle cx="312.00" cy="222.15" r="0.45" fill="rgb(31,31,31)"/>
<circle cx="316.89" cy="212.66" r="0.45" fill="rgb(43,43,43)"/>
<circle cx="313.34" cy="224.67" r="0.45" fill="rgb(69,69,69)"/>
<circle cx="319.99" cy="223.08" r="0.45" fill="rgb(19,19,19)"/>
<circle cx="323.07" cy="213.56" r="0.45" fill="rgb(36,36,36)"/>
<ellipse cx="317.2" cy="218.5" rx="7.5" ry="4.8" fill="url(#bg3)" filter="url(#bl)" transform="rotate(-56 317.2 218.5)"/>
<line x1="173.6" y1="249.3" x2="173.6" y2="202" stroke="#111" stroke-width="1.0"/>
<path d="M173.5 197.6 L176.2 204 L173.5 203 L170.8 204 Z" fill="#111"/>
<line x1="173.1" y1="248.8" x2="333" y2="248.8" stroke="#111" stroke-width="1.0"/>
<path d="M336.6 248.8 L330.6 246.2 L331.8 248.8 L330.6 251.4 Z" fill="#111"/>
<text x="170.2" y="248.8" font-size="8.6" fill="#262626" text-anchor="start" textLength="19.0" lengthAdjust="spacingAndGlyphs" transform="rotate(-90 170.2 248.8)">CD37</text>
<text x="173.5" y="260.1" font-size="8.6" fill="#262626" text-anchor="start" textLength="19.0" lengthAdjust="spacingAndGlyphs">CD19</text>
<line x1="392.4" y1="176.3" x2="392.4" y2="249.1" stroke="#231f20" stroke-width="1.1"/>
<line x1="391.9" y1="248.6" x2="500" y2="248.6" stroke="#231f20" stroke-width="1.1"/>
<line x1="389.2" y1="248.6" x2="392.4" y2="248.6" stroke="#231f20" stroke-width="0.9"/>
<text x="386.09999999999997" y="251.2" font-size="7.4" fill="#262626" text-anchor="end" textLength="6.4" lengthAdjust="spacingAndGlyphs">50</text>
<line x1="392.5" y1="248.6" x2="392.5" y2="251.6" stroke="#231f20" stroke-width="0.8"/>
<text x="392.5" y="261.2" font-size="7.4" fill="#262626" text-anchor="middle" textLength="6.4" lengthAdjust="spacingAndGlyphs">50</text>
<line x1="389.2" y1="234.78" x2="392.4" y2="234.78" stroke="#231f20" stroke-width="0.9"/>
<text x="386.09999999999997" y="237.38" font-size="7.4" fill="#262626" text-anchor="end" textLength="6.4" lengthAdjust="spacingAndGlyphs">60</text>
<line x1="413.4" y1="248.6" x2="413.4" y2="251.6" stroke="#231f20" stroke-width="0.8"/>
<text x="413.4" y="261.2" font-size="7.4" fill="#262626" text-anchor="middle" textLength="6.4" lengthAdjust="spacingAndGlyphs">60</text>
<line x1="389.2" y1="220.96" x2="392.4" y2="220.96" stroke="#231f20" stroke-width="0.9"/>
<text x="386.09999999999997" y="223.56" font-size="7.4" fill="#262626" text-anchor="end" textLength="6.4" lengthAdjust="spacingAndGlyphs">70</text>
<line x1="434.3" y1="248.6" x2="434.3" y2="251.6" stroke="#231f20" stroke-width="0.8"/>
<text x="434.3" y="261.2" font-size="7.4" fill="#262626" text-anchor="middle" textLength="6.4" lengthAdjust="spacingAndGlyphs">70</text>
<line x1="389.2" y1="207.14" x2="392.4" y2="207.14" stroke="#231f20" stroke-width="0.9"/>
<text x="386.09999999999997" y="209.73999999999998" font-size="7.4" fill="#262626" text-anchor="end" textLength="6.4" lengthAdjust="spacingAndGlyphs">80</text>
<line x1="455.2" y1="248.6" x2="455.2" y2="251.6" stroke="#231f20" stroke-width="0.8"/>
<text x="455.2" y="261.2" font-size="7.4" fill="#262626" text-anchor="middle" textLength="6.4" lengthAdjust="spacingAndGlyphs">80</text>
<line x1="389.2" y1="193.32" x2="392.4" y2="193.32" stroke="#231f20" stroke-width="0.9"/>
<text x="386.09999999999997" y="195.92" font-size="7.4" fill="#262626" text-anchor="end" textLength="6.4" lengthAdjust="spacingAndGlyphs">90</text>
<line x1="476.1" y1="248.6" x2="476.1" y2="251.6" stroke="#231f20" stroke-width="0.8"/>
<text x="476.1" y="261.2" font-size="7.4" fill="#262626" text-anchor="middle" textLength="6.4" lengthAdjust="spacingAndGlyphs">90</text>
<line x1="389.2" y1="179.5" x2="392.4" y2="179.5" stroke="#231f20" stroke-width="0.9"/>
<text x="386.09999999999997" y="182.1" font-size="7.4" fill="#262626" text-anchor="end" textLength="9.4" lengthAdjust="spacingAndGlyphs">100</text>
<line x1="497.0" y1="248.6" x2="497.0" y2="251.6" stroke="#231f20" stroke-width="0.8"/>
<text x="497.0" y="261.2" font-size="7.4" fill="#262626" text-anchor="middle" textLength="9.4" lengthAdjust="spacingAndGlyphs">100</text>
<text x="358.3" y="242.7" font-size="8.3" fill="#262626" text-anchor="start" textLength="60.7" lengthAdjust="spacingAndGlyphs" transform="rotate(-90 358.3 242.7)">CD37 expression</text>
<text x="368.4" y="243.5" font-size="8.3" fill="#262626" text-anchor="start" textLength="61.9" lengthAdjust="spacingAndGlyphs" transform="rotate(-90 368.4 243.5)">(% of tumor cells)</text>
<text x="382.2" y="273.0" font-size="8.4" fill="#262626" text-anchor="start" textLength="127.3" lengthAdjust="spacingAndGlyphs">CD19 expression (% of tumor cells )</text>
<circle cx="435.3" cy="185.8" r="1.4" fill="#921628" stroke="#111" stroke-width="0.85"/>
<circle cx="481.9" cy="180.3" r="1.4" fill="#921628" stroke="#111" stroke-width="0.85"/>
<circle cx="432" cy="182" r="1.4" fill="#5ea535" stroke="#111" stroke-width="0.85"/>
<circle cx="484.6" cy="180.8" r="1.4" fill="#5ea535" stroke="#111" stroke-width="0.85"/>
<circle cx="485.4" cy="182.4" r="1.4" fill="#5ea535" stroke="#111" stroke-width="0.85"/>
<circle cx="487.5" cy="183.2" r="1.4" fill="#5ea535" stroke="#111" stroke-width="0.85"/>
<circle cx="490.9" cy="179.8" r="1.4" fill="#5ea535" stroke="#111" stroke-width="0.85"/>
<circle cx="492.7" cy="182.4" r="1.4" fill="#5ea535" stroke="#111" stroke-width="0.85"/>
<circle cx="494.5" cy="180.8" r="1.4" fill="#5ea535" stroke="#111" stroke-width="0.85"/>
<circle cx="496.5" cy="178.9" r="1.4" fill="#5ea535" stroke="#111" stroke-width="0.85"/>
<circle cx="497.3" cy="180.5" r="1.4" fill="#5ea535" stroke="#111" stroke-width="0.85"/>
<circle cx="496.9" cy="182" r="1.4" fill="#5ea535" stroke="#111" stroke-width="0.85"/>
<circle cx="496.5" cy="185.8" r="1.4" fill="#5ea535" stroke="#111" stroke-width="0.85"/>
<circle cx="477.4" cy="193.8" r="1.4" fill="#5ea535" stroke="#111" stroke-width="0.85"/>
<circle cx="490.8" cy="205.8" r="1.4" fill="#5ea535" stroke="#111" stroke-width="0.85"/>
<circle cx="490.8" cy="183.5" r="1.4" fill="#274a82" stroke="#111" stroke-width="0.85"/>
<circle cx="497" cy="209.3" r="1.4" fill="#274a82" stroke="#111" stroke-width="0.85"/>
<circle cx="471" cy="240.8" r="1.4" fill="#274a82" stroke="#111" stroke-width="0.85"/>
<circle cx="496.9" cy="183.9" r="1.4" fill="#ee9624" stroke="#111" stroke-width="0.85"/>
<circle cx="396.6" cy="215.5" r="1.3" fill="#921628" stroke="#111" stroke-width="0.5"/>
<text x="401.2" y="217.6" font-size="5.8" fill="#404040" text-anchor="start" textLength="4.6" lengthAdjust="spacingAndGlyphs">FL</text>
<circle cx="396.6" cy="224.65" r="1.3" fill="#5ea535" stroke="#111" stroke-width="0.5"/>
<text x="401.2" y="226.75" font-size="5.8" fill="#404040" text-anchor="start" textLength="15.0" lengthAdjust="spacingAndGlyphs">DLBCL</text>
<circle cx="396.6" cy="233.8" r="1.3" fill="#274a82" stroke="#111" stroke-width="0.5"/>
<text x="401.2" y="235.9" font-size="5.8" fill="#404040" text-anchor="start" textLength="9.6" lengthAdjust="spacingAndGlyphs">MCL</text>
<circle cx="396.6" cy="242.95" r="1.3" fill="#ee9624" stroke="#111" stroke-width="0.5"/>
<text x="401.2" y="245.04999999999998" font-size="5.8" fill="#404040" text-anchor="start" textLength="20.8" lengthAdjust="spacingAndGlyphs">CLL/MZL</text>
</svg>
</body></html>
